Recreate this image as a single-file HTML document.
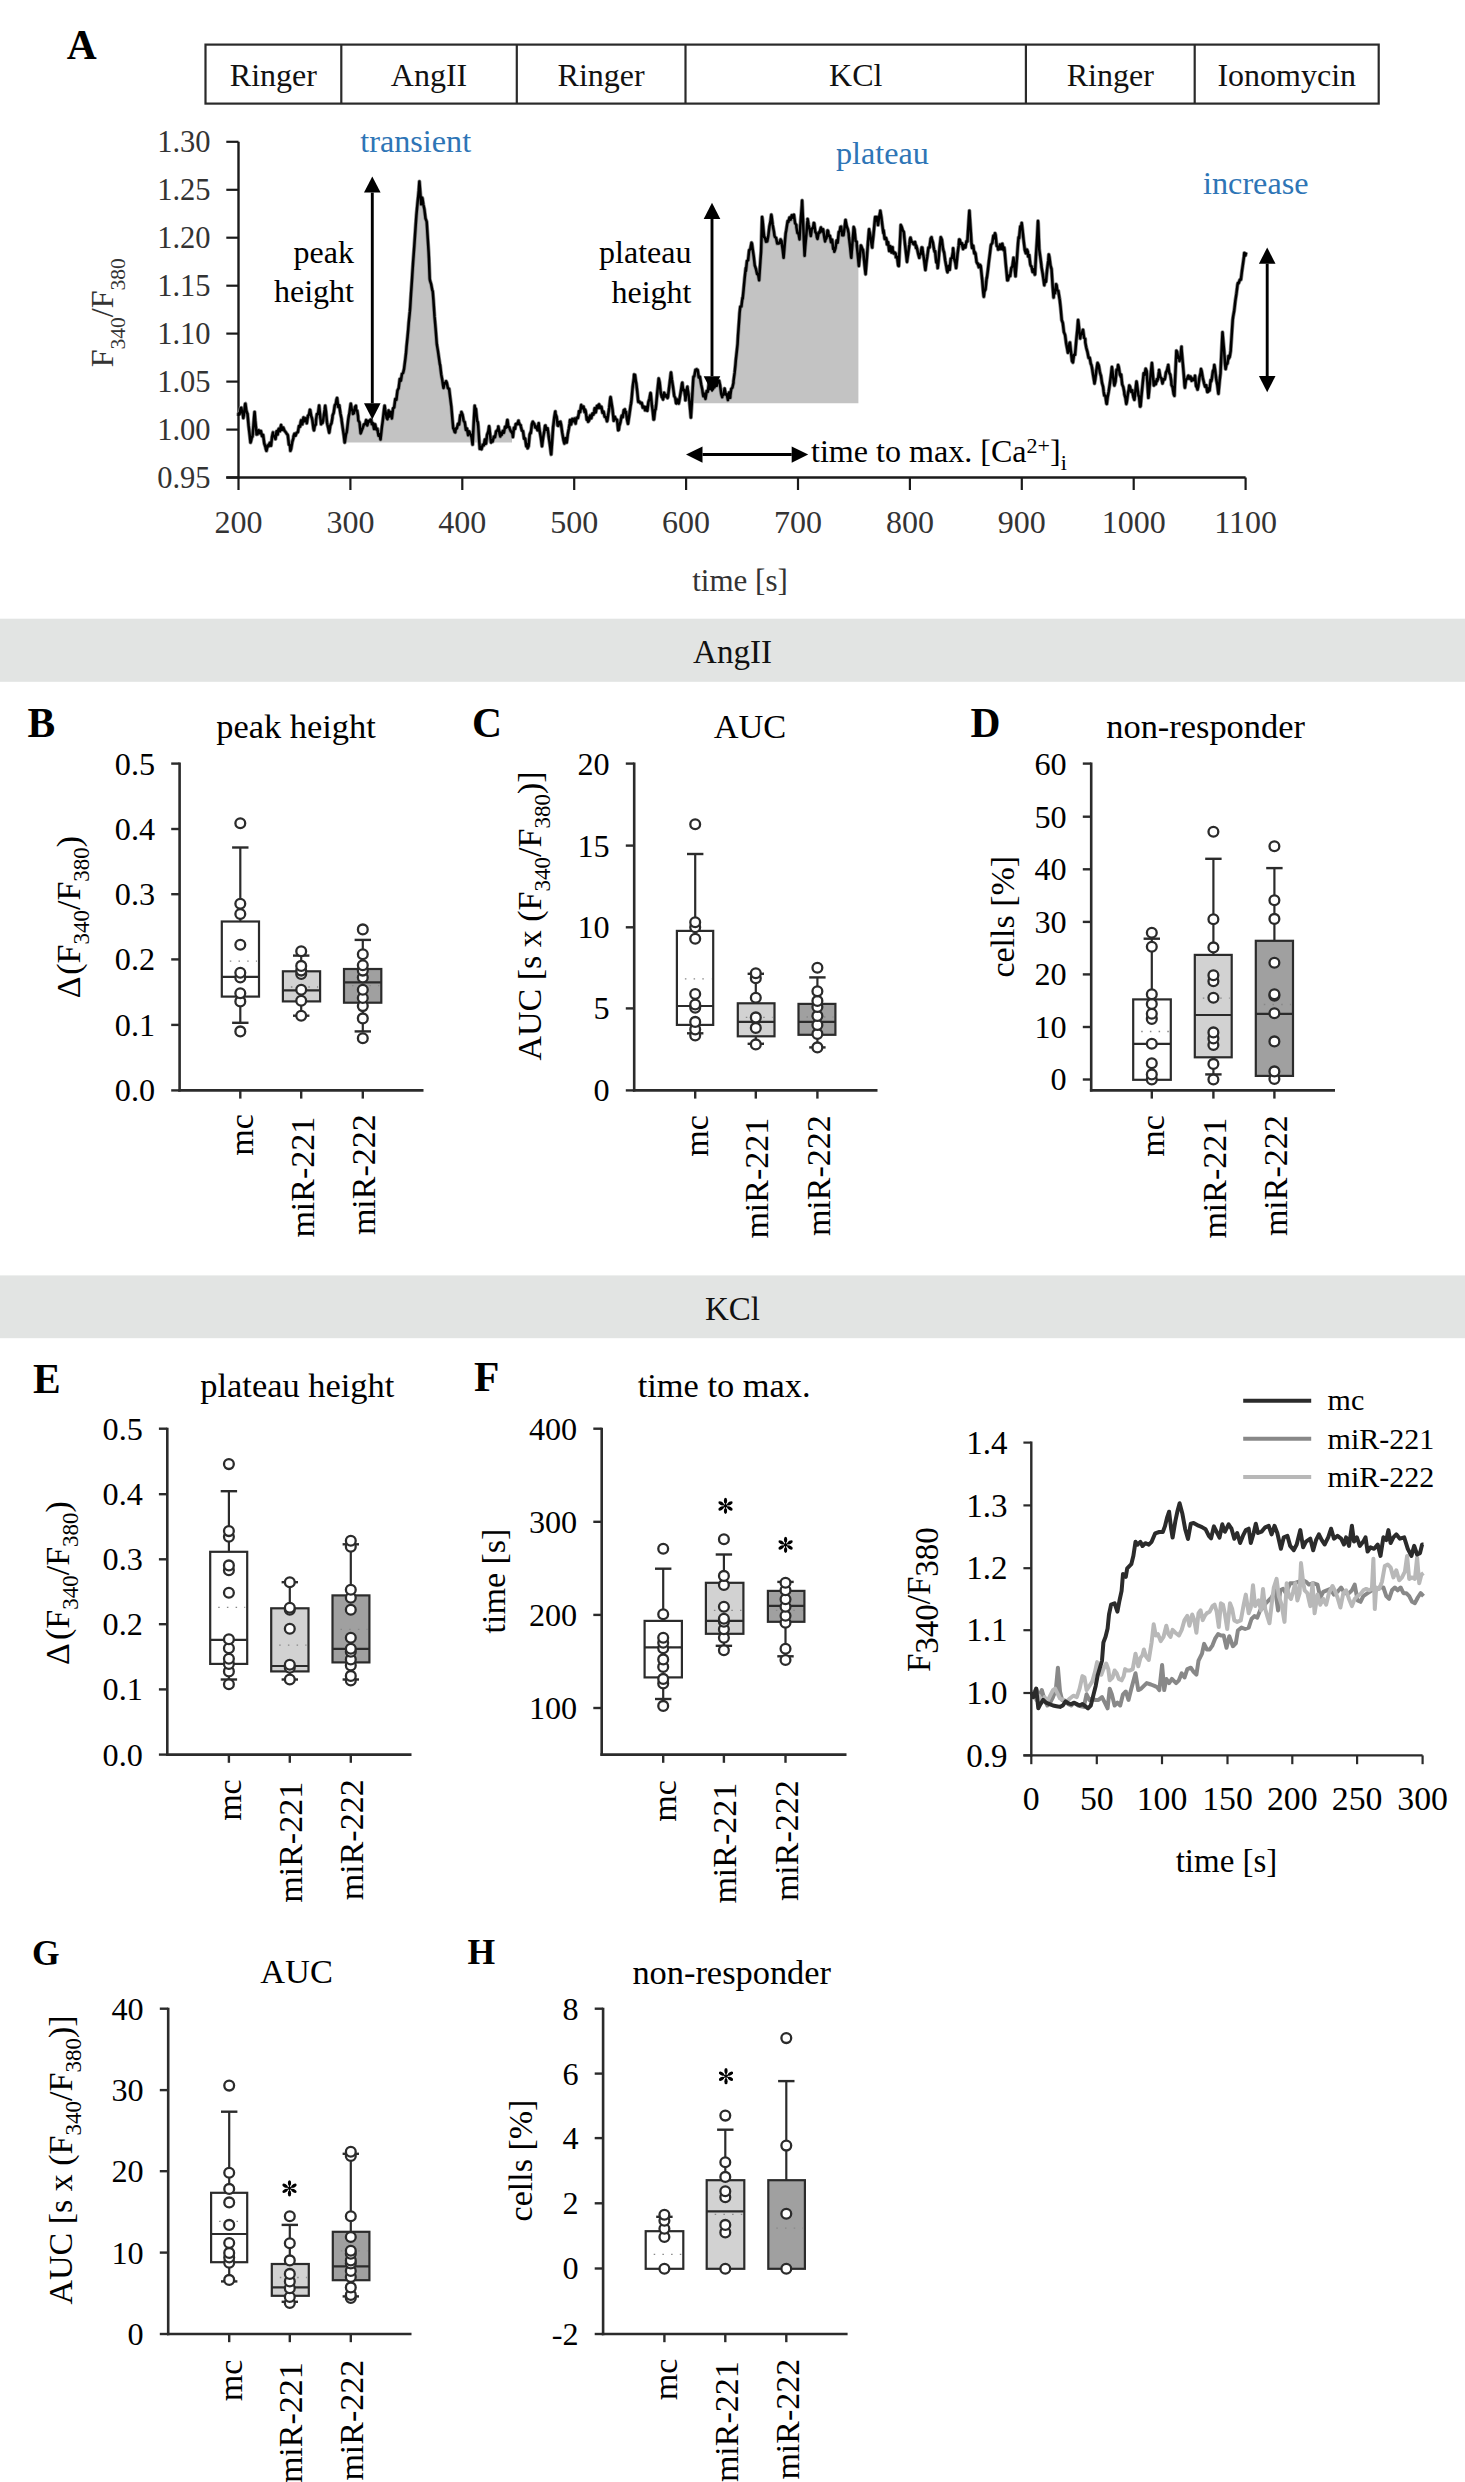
<!DOCTYPE html><html><head><meta charset="utf-8"><title>Figure</title>
<style>html,body{margin:0;padding:0;background:#fff;width:1465px;height:2482px;overflow:hidden}svg{display:block;font-family:"Liberation Serif",serif}</style></head><body>
<svg width="1465" height="2482" viewBox="0 0 1465 2482">
<rect x="0" y="0" width="1465" height="2482" fill="#fff"/>
<text x="66.8" y="58.8" font-size="41.5" text-anchor="start" fill="#000" font-weight="bold" >A</text>
<rect x="205.5" y="44.6" width="1173.2" height="59" fill="none" stroke="#2a2a2a" stroke-width="2.2"/>
<line x1="341.3" y1="44.6" x2="341.3" y2="103.6" stroke="#2a2a2a" stroke-width="2.2" />
<line x1="516.8" y1="44.6" x2="516.8" y2="103.6" stroke="#2a2a2a" stroke-width="2.2" />
<line x1="685.5" y1="44.6" x2="685.5" y2="103.6" stroke="#2a2a2a" stroke-width="2.2" />
<line x1="1025.9" y1="44.6" x2="1025.9" y2="103.6" stroke="#2a2a2a" stroke-width="2.2" />
<line x1="1194.7" y1="44.6" x2="1194.7" y2="103.6" stroke="#2a2a2a" stroke-width="2.2" />
<text x="273.4" y="86.2" font-size="32" text-anchor="middle" fill="#111" >Ringer</text>
<text x="429" y="86.2" font-size="32" text-anchor="middle" fill="#111" >AngII</text>
<text x="601.1" y="86.2" font-size="32" text-anchor="middle" fill="#111" >Ringer</text>
<text x="855.7" y="86.2" font-size="32" text-anchor="middle" fill="#111" >KCl</text>
<text x="1110.3" y="86.2" font-size="32" text-anchor="middle" fill="#111" >Ringer</text>
<text x="1286.7" y="86.2" font-size="32" text-anchor="middle" fill="#111" >Ionomycin</text>
<polygon points="342.6,442.6 342.6,427.3 344.7,442.6 346.7,432.4 348.8,416 350.8,403.7 352.9,413.9 355.9,405.8 358,416 361.1,432.4 364.1,424.2 367.2,422.1 371.3,420.1 374.4,426.2 377.5,430.3 380.5,439.5 382.6,422.1 384.6,405.8 386.7,418 388.7,411.9 391.8,416 393.8,407.8 396.9,395.5 400,381.2 404.1,368.9 406.1,352.5 408.2,330 410.2,307.5 412.3,274.7 414.3,246 416.4,215.3 418.4,194.8 419.4,181.5 420.9,201 422.5,198.9 424.6,211.2 426.6,221.4 428.6,252.2 429.7,278.8 432.7,291.1 434.8,319.7 436.8,344.3 439.9,364.8 443,385.3 446.1,381.2 449.1,389.4 451.2,405.8 453.2,428.3 455.3,432.4 458.3,424.2 461.4,411.9 464.5,422.1 467.6,432.4 470.6,434.4 472.7,442.6 474.7,405.8 477.8,422.1 479.8,442.6 482.9,442.6 486,440.6 489.1,426.2 491.1,442.6 494.2,436.5 498.3,428.3 500.3,436.5 504.4,430.3 507.5,420.1 509.5,428.3 512,433.2 512,442.6" fill="#c3c3c3" stroke="none" />
<polygon points="693.5,403.2 693.5,377 693.5,376.6 696.6,369.4 699.7,376.6 702.7,393 705.8,397.1 708.9,384.8 713,388.9 717.1,382.7 719.1,380.7 722.2,397.1 724.2,390.9 727.3,397.1 730.4,395 733.5,382.7 735.5,364.3 737.6,343.8 739.6,313.1 742.7,298.8 745.8,268.1 748.8,253.7 751.9,243.5 755,266 759.1,280.3 761.1,251.7 762.1,216.9 764.2,237.3 767.3,241.4 771.3,214.8 774.4,235.3 778.5,243.5 781.6,241.4 783.6,257.8 785.7,233.2 787.7,221 790.8,218.9 793.9,214.8 796.4,227.1 799.5,239.4 802.1,200.5 804.6,255.8 807.6,218.9 810.7,235.3 813.8,223 816.9,237.3 819.9,231.2 823,229.2 825.1,241.4 828.1,231.2 831.2,239.4 834.3,251.7 837.3,241.4 840.4,227.1 843.5,235.3 845.5,219.9 848.6,233.2 851.3,257.8 853.7,227.1 856.8,245.5 858.4,261.6 858.4,403.2" fill="#c3c3c3" stroke="none" />
<line x1="238.5" y1="141.8" x2="238.5" y2="478.5" stroke="#1a1a1a" stroke-width="2.4" />
<line x1="226.3" y1="477.5" x2="1245.6" y2="477.5" stroke="#1a1a1a" stroke-width="2.4" />
<line x1="226.3" y1="141.8" x2="238.5" y2="141.8" stroke="#1a1a1a" stroke-width="2.2" />
<text x="210.5" y="152.1" font-size="30.5" text-anchor="end" fill="#333" >1.30</text>
<line x1="226.3" y1="189.8" x2="238.5" y2="189.8" stroke="#1a1a1a" stroke-width="2.2" />
<text x="210.5" y="200.1" font-size="30.5" text-anchor="end" fill="#333" >1.25</text>
<line x1="226.3" y1="237.7" x2="238.5" y2="237.7" stroke="#1a1a1a" stroke-width="2.2" />
<text x="210.5" y="248" font-size="30.5" text-anchor="end" fill="#333" >1.20</text>
<line x1="226.3" y1="285.7" x2="238.5" y2="285.7" stroke="#1a1a1a" stroke-width="2.2" />
<text x="210.5" y="296" font-size="30.5" text-anchor="end" fill="#333" >1.15</text>
<line x1="226.3" y1="333.6" x2="238.5" y2="333.6" stroke="#1a1a1a" stroke-width="2.2" />
<text x="210.5" y="343.9" font-size="30.5" text-anchor="end" fill="#333" >1.10</text>
<line x1="226.3" y1="381.6" x2="238.5" y2="381.6" stroke="#1a1a1a" stroke-width="2.2" />
<text x="210.5" y="391.9" font-size="30.5" text-anchor="end" fill="#333" >1.05</text>
<line x1="226.3" y1="429.6" x2="238.5" y2="429.6" stroke="#1a1a1a" stroke-width="2.2" />
<text x="210.5" y="439.9" font-size="30.5" text-anchor="end" fill="#333" >1.00</text>
<line x1="226.3" y1="477.5" x2="238.5" y2="477.5" stroke="#1a1a1a" stroke-width="2.2" />
<text x="210.5" y="487.8" font-size="30.5" text-anchor="end" fill="#333" >0.95</text>
<line x1="238.5" y1="477.5" x2="238.5" y2="490" stroke="#1a1a1a" stroke-width="2.2" />
<text x="238.5" y="532.5" font-size="32" text-anchor="middle" fill="#333" >200</text>
<line x1="350.4" y1="477.5" x2="350.4" y2="490" stroke="#1a1a1a" stroke-width="2.2" />
<text x="350.4" y="532.5" font-size="32" text-anchor="middle" fill="#333" >300</text>
<line x1="462.3" y1="477.5" x2="462.3" y2="490" stroke="#1a1a1a" stroke-width="2.2" />
<text x="462.3" y="532.5" font-size="32" text-anchor="middle" fill="#333" >400</text>
<line x1="574.2" y1="477.5" x2="574.2" y2="490" stroke="#1a1a1a" stroke-width="2.2" />
<text x="574.2" y="532.5" font-size="32" text-anchor="middle" fill="#333" >500</text>
<line x1="686.1" y1="477.5" x2="686.1" y2="490" stroke="#1a1a1a" stroke-width="2.2" />
<text x="686.1" y="532.5" font-size="32" text-anchor="middle" fill="#333" >600</text>
<line x1="798" y1="477.5" x2="798" y2="490" stroke="#1a1a1a" stroke-width="2.2" />
<text x="798" y="532.5" font-size="32" text-anchor="middle" fill="#333" >700</text>
<line x1="909.9" y1="477.5" x2="909.9" y2="490" stroke="#1a1a1a" stroke-width="2.2" />
<text x="909.9" y="532.5" font-size="32" text-anchor="middle" fill="#333" >800</text>
<line x1="1021.8" y1="477.5" x2="1021.8" y2="490" stroke="#1a1a1a" stroke-width="2.2" />
<text x="1021.8" y="532.5" font-size="32" text-anchor="middle" fill="#333" >900</text>
<line x1="1133.7" y1="477.5" x2="1133.7" y2="490" stroke="#1a1a1a" stroke-width="2.2" />
<text x="1133.7" y="532.5" font-size="32" text-anchor="middle" fill="#333" >1000</text>
<line x1="1245.6" y1="477.5" x2="1245.6" y2="490" stroke="#1a1a1a" stroke-width="2.2" />
<text x="1245.6" y="532.5" font-size="32" text-anchor="middle" fill="#333" >1100</text>
<text x="740" y="590.7" font-size="31" text-anchor="middle" fill="#333" >time [s]</text>
<text transform="translate(113,312.7) rotate(-90)" font-size="32" text-anchor="middle" fill="#333">F<tspan font-size="21.5" dy="12">340</tspan><tspan dy="-12">/F</tspan><tspan font-size="21.5" dy="12">380</tspan></text>
<polyline points="238.5,416 238.5,413.6 239.6,414 240.7,408.1 241.3,407.8 241.9,411.2 243,415.1 243.3,418 244.1,413.3 245.2,403.8 245.4,403.7 246.3,410.3 247.4,413.9 247.5,413.6 248.6,425.8 249.7,435.1 250.5,442.6 250.8,441.7 251.9,437.1 252.5,436.5 253.1,430.2 254.2,416.2 254.6,411.9 255.3,420.9 256.4,431.6 256.6,434.4 257.5,434.2 258.7,430.2 259.7,432.4 259.8,433.2 260.9,431.1 262,436.1 262.8,436.5 263.1,434.9 264.3,443.5 265.4,446.8 265.8,448.8 266.5,450.8 267.6,445.4 268.7,446.1 268.9,444.7 269.9,442.7 271,442.6 271,445.8 272.1,436.6 273,432.4 273.2,435.7 274.3,435.9 275.1,438.5 275.5,439 276.6,431.3 277.7,434.5 278.1,430.3 278.8,428.9 279.9,431.3 281.1,425.1 281.2,426.2 282.2,429.8 283.3,427.6 284.3,430.3 284.4,430.7 285.5,431.8 286.7,433.7 287.3,434.4 287.8,435.2 288.9,444.5 290,445.6 290.4,450.8 291.1,448.9 292.3,441.9 293.4,438.2 293.5,436.5 294.5,433.7 295.6,435.6 296.7,432.6 297.6,432.4 297.9,432 299,425.9 300.1,426.6 300.7,422.1 301.2,420.4 302.3,424.3 303.5,417.4 303.7,420.1 304.6,421.2 305.7,418.4 306.8,422.1 306.8,423.3 307.9,416 309.1,414.3 309.9,409.8 310.2,410.1 311.3,416.6 311.9,418 312.4,420.4 313.5,428.7 314,430.3 314.7,426 315.8,424.6 316,420.1 316.9,414.1 318,414.1 319.1,405.8 319.1,405.5 320.3,417.1 321.1,424.2 321.4,421.7 322.5,423 323.2,420.1 323.6,416.9 324.7,409.7 325.2,405.8 325.9,410.9 327,422.4 327.3,424.2 328.1,427.4 329.2,432.7 329.3,432.4 330.3,425.6 331.5,423.2 332.4,418 332.6,415.5 333.7,412.8 334.4,407.8 334.8,405.4 335.9,403.6 336.5,399.6 337.1,398 338.2,406.9 339.3,405.3 339.6,407.8 340.4,413.3 341.5,418.7 341.6,420.1 342.7,427.9 343.8,435.1 344.7,442.6 344.9,441.7 346,434.2 346.7,432.4 347.1,429.5 348.3,419.3 348.8,416 349.4,413.4 350.5,405.5 350.8,403.7 351.6,408.6 352.7,411.6 352.9,413.9 353.9,413.3 355,407.2 355.9,405.8 356.1,410.1 357.2,410.8 358,416 358.3,420.5 359.5,422.4 360.6,433.4 361.1,432.4 361.7,430.5 362.8,427.9 363.9,424.4 364.1,424.2 365.1,424.2 366.2,420.1 367.2,422.1 367.3,425.4 368.4,420.9 369.5,421.5 370.7,419.5 371.3,420.1 371.8,424.2 372.9,423.1 374,429 374.4,426.2 375.1,424.4 376.3,429.4 377.4,428.9 377.5,430.3 378.5,435.7 379.6,434.4 380.5,439.5 380.7,438.1 381.9,427.2 382.6,422.1 383,419 384.1,409.3 384.6,405.8 385.2,410 386.3,415.6 386.7,418 387.5,419.2 388.6,410.6 388.7,411.9 389.7,416.5 390.8,412 391.8,416 391.9,418.4 393.1,408.2 393.8,407.8 394.2,407.5 395.3,399 396.4,399.8 396.9,395.5 397.5,390.5 398.7,388.2 399.8,379 400,381.2 400.9,380.7 402,373.9 403.1,373 404.1,368.9 404.3,367.1 405.4,358.7 406.1,352.5 406.5,347.3 407.6,336.5 408.2,330 408.7,323.3 409.9,311.4 410.2,307.5 411,294.4 412.1,278.4 412.3,274.7 413.2,261 414.3,246.2 414.3,246 415.5,228.4 416.4,215.3 416.6,213.2 417.7,201.4 418.4,194.8 418.8,190.5 419.4,181.5 419.9,187.9 420.9,201 421.1,204.2 422.2,197.8 422.5,198.9 423.3,204.3 424.4,209.4 424.6,211.2 425.5,218.5 426.6,221.4 426.7,222 427.8,239.4 428.6,252.2 428.9,258.1 429.7,278.8 430,280.6 431.1,284.1 432.3,290.5 432.7,291.1 433.4,299.9 434.5,316.4 434.8,319.7 435.6,328.8 436.7,343.1 436.8,344.3 437.9,350.9 439,358.6 439.9,364.8 440.1,365 441.2,374.4 442.3,380.3 443,385.3 443.5,388 444.6,382.9 445.7,383.3 446.1,381.2 446.8,382.8 447.9,388.2 449.1,389.4 449.1,388.8 450.2,397.8 451.2,405.8 451.3,406.4 452.4,419.5 453.2,428.3 453.5,428.4 454.7,432.2 455.3,432.4 455.8,428.5 456.9,428.4 458,423.7 458.3,424.2 459.1,424.5 460.3,415.1 461.4,414.5 461.4,411.9 462.5,414.6 463.6,420.6 464.5,422.1 464.7,422 465.9,430 467,428.6 467.6,432.4 468.1,435.2 469.2,431.4 470.3,434.3 470.6,434.4 471.5,437 472.6,444.6 472.7,442.6 473.7,423.4 474.7,405.8 474.8,407.4 475.9,408.9 477.1,420.8 477.8,422.1 478.2,426 479.3,442 479.8,448.8 480.4,446.9 481.5,449.2 482.7,444.8 482.9,444.7 483.8,445.3 484.9,439.4 486,440.6 486,443.7 487.1,434.7 488.3,431.5 489.1,426.2 489.4,428.1 490.5,438.2 491.1,442.6 491.6,441.4 492.7,441.4 493.9,436.6 494.2,436.5 495,437.2 496.1,431.4 497.2,430.5 498.3,428.3 498.3,426.4 499.5,433.1 500.3,436.5 500.6,432.7 501.7,434.9 502.8,431.1 503.9,432.8 504.4,430.3 505.1,426.7 506.2,427.7 507.3,420.1 507.5,420.1 508.4,427.1 509.5,427.3 509.5,428.3 510.7,431.1 511.8,432.4 512.6,434.4 512.9,437 514,427.7 515.1,428.8 515.7,424.2 516.3,423.7 517.4,424.2 518.5,420.7 518.8,422.1 519.6,424.3 520.7,425.2 520.8,426.2 521.9,430.6 523,431.1 524.1,438.7 524.6,438 525.2,438.8 526.3,446.3 527.5,444.5 527.6,448.3 528.6,446.1 529.7,434.4 530.7,431.9 530.8,433.2 531.9,424.1 532.8,421.7 533.1,422.4 534.2,423.7 535.3,427.5 535.8,427.8 536.4,426.6 537.5,430.2 538.7,423.2 538.9,425.8 539.8,431.7 540.9,438 542,446.3 542,446.2 543.1,437.8 544.3,431.1 545.1,425.8 545.4,425.5 546.5,429.7 547.6,428.3 548.1,431.9 548.7,436.8 549.9,444.6 551,453.6 551.2,454.4 552.1,441.8 553.2,425.8 553.2,426.8 554.3,417.3 555.3,411.4 555.5,413.9 556.6,416.7 557.7,425.5 558.4,425.8 558.8,422.2 559.9,423.2 560.4,421.7 561.1,424.6 562.2,432.6 563.3,438.8 563.5,440.1 564.4,443.5 565.5,438.3 566.6,442.1 566.7,442.5 567.8,434.2 568.9,428.3 569.6,423.7 570,420.1 571.1,424.5 572.3,418.9 572.7,419.6 573.4,421.3 574.5,418.6 575.6,423.6 575.8,421.7 576.7,417.7 577.9,418 578.8,413.5 579,411.2 580.1,412.2 581.2,405.1 581.9,407.3 582.3,408.3 583.5,406.6 584.6,412.1 585,409.4 585.7,411.3 586.8,419.8 587.9,417.6 588.1,421.7 589.1,420.4 590.2,415.4 591.1,417.6 591.3,418.2 592.4,413.5 593.5,414.6 594.2,411.4 594.7,408.2 595.8,412.4 596.9,406.1 598,408 598.3,405.3 599.1,404.4 600.3,408 601.4,407.3 601.4,406.8 602.5,412.8 603.6,411.7 604.4,415.5 604.7,416.8 605.9,417.2 607,421.3 607.5,419.6 608.1,415.2 609.2,408 610.3,398.3 610.6,397.1 611.5,403 612.6,409.9 613.7,420.8 613.7,417.6 614.8,416.8 615.9,419.3 616.7,419.6 617.1,419.9 618.2,430.3 618.8,429.8 619.3,426.2 620.4,422.4 621.5,416.5 621.9,415.5 622.7,417.2 623.8,410.3 624.9,409.4 624.9,412.6 626,411.8 627.1,419.8 628,423.7 628.3,421.8 629.4,414.5 630.5,406.5 631.1,403.2 631.6,399 632.7,386.7 633.9,378.1 634.1,374.6 635,374.9 636.1,382.9 636.2,382.7 637.2,391.2 638.2,401.2 638.3,401.9 639.5,401.6 640.6,403.3 641.3,403.2 641.7,402.8 642.8,407.6 643.9,406.6 644.4,407.3 645.1,410.3 646.2,407 647.3,410.8 647.5,409.4 648.4,402.1 649.5,398.5 650.5,393 650.7,393.3 651.8,404.3 652.9,412.7 653.6,419.6 654,419.4 655.1,409.6 655.6,409.4 656.3,403.3 657.4,391.3 658.5,380.8 658.7,378.6 659.6,382.2 660.7,392.6 661.8,397.1 661.9,395.9 663,399.5 664.1,392.8 664.9,395 665.2,396.6 666.3,395.1 667.5,398 667.9,397.1 668.6,391.6 669.7,383 670.8,373.8 671,372.5 671.9,379.7 673.1,387.4 674.1,395 674.2,396 675.3,398 676.1,403.2 676.4,403.4 677.5,399.6 678.7,403.5 679.2,401.2 679.8,397.6 680.9,391 682,383.7 682.3,382.7 683.1,390.3 684.3,390.1 685.3,397.1 685.4,400.3 686.5,391 687.4,386.8 687.6,389 688.7,395.8 689.4,401.2 689.9,406.6 690.9,417.6 691,415.8 692.1,399 693.2,380.4 693.5,376.6 694.3,376.4 695.5,369.8 696.6,369.4 696.6,370.2 697.7,370.1 698.8,377.5 699.7,376.6 699.9,376.8 701.1,384.3 702.2,389.2 702.7,393 703.3,396.2 704.4,393.7 705.5,398.9 705.8,397.1 706.7,391 707.8,391.8 708.9,383.6 708.9,384.8 710,389 711.1,383.8 712.3,389.9 713,388.9 713.4,386.3 714.5,387.2 715.6,381.9 716.7,385.8 717.1,382.7 717.9,381.3 719,382.2 719.1,380.7 720.1,385.5 721.2,393.9 722.2,397.1 722.3,395.4 723.5,394.9 724.2,390.9 724.6,388.6 725.7,394.5 726.8,394.3 727.3,397.1 727.9,400.1 729.1,392.5 730.2,397.8 730.4,395 731.3,388.8 732.4,387.7 733.5,382.7 733.5,381.3 734.7,372.4 735.5,364.3 735.8,360.5 736.9,350.5 737.6,343.8 738,336.2 739.1,320.9 739.6,313.1 740.3,306.7 741.4,306.5 742.5,297.7 742.7,298.8 743.6,289.6 744.7,277.8 745.8,268.1 745.9,271.1 747,260.8 748.1,260.3 748.8,253.7 749.2,250 750.3,249.4 751.5,242.8 751.9,243.5 752.6,248.6 753.7,256.2 754.8,265.9 755,266 755.9,268.8 757.1,274.1 758.2,274.7 759.1,280.3 759.3,277.5 760.4,261.1 761.1,251.7 761.5,237.7 762.1,216.9 762.7,221.6 763.8,233.6 764.2,237.3 764.9,237.4 766,241.7 767.1,239 767.3,241.4 768.3,235.8 769.4,226.6 770.5,221.3 771.3,214.8 771.6,216.3 772.7,225 773.9,231.4 774.4,235.3 775,237.1 776.1,237.9 777.2,243.6 778.3,243 778.5,243.5 779.5,243.1 780.6,239.5 781.6,241.4 781.7,243.1 782.8,250.8 783.6,257.8 783.9,254.3 785.1,239.8 785.7,233.2 786.2,230.7 787.3,223.5 787.7,221 788.4,221.9 789.5,217.5 790.7,219.7 790.8,218.9 791.8,215.2 792.9,217.6 793.9,214.8 794,215.4 795.1,223.3 796.3,224.9 796.4,227.1 797.4,233.1 798.5,233.5 799.5,239.4 799.6,237.2 800.7,220.5 801.9,205.2 802.1,200.5 803,219.8 804.1,245.2 804.6,255.8 805.2,247.1 806.3,235.1 807.5,220.9 807.6,218.9 808.6,224.9 809.7,229.8 810.7,235.3 810.8,236 811.9,228.4 813.1,228 813.8,223 814.2,223.4 815.3,231.8 816.4,233.8 816.9,237.3 817.5,238.9 818.7,232.6 819.8,232.7 819.9,231.2 820.9,227.5 822,231.5 823,229.2 823.1,229.2 824.3,237.3 825.1,241.4 825.4,239.7 826.5,238.1 827.6,230.4 828.1,231.2 828.7,236 829.9,235.7 831,242.2 831.2,239.4 832.1,239.7 833.2,249.1 834.3,248.2 834.3,251.7 835.5,248.4 836.6,240.4 837.3,241.4 837.7,242.7 838.8,232 839.9,230.7 840.4,227.1 841.1,226.7 842.2,235.3 843.3,234.8 843.5,235.3 844.4,229.1 845.5,219.9 845.5,220 846.7,226.3 847.8,229.2 848.6,233.2 848.9,237 850,246 851.1,256.9 851.3,257.8 852.3,244.8 853.4,231.7 853.7,227.1 854.5,229.5 855.6,241.1 856.7,241.7 856.8,245.5 857.9,256.2 858.8,266 859,264.1 860.1,253.7 860.9,245.5 861.2,245.8 862.3,249 862.9,249.6 863.5,254 864.6,265.4 865.6,274.2 865.7,272.7 866.8,258.9 867.9,243.3 869.1,229.2 869.1,230.1 870.2,234.8 871.3,242.5 872.2,247.6 872.4,244.5 873.5,234.6 874.7,221.7 875.2,216.9 875.8,220.4 876.9,217 878,225.1 878.3,223 879.1,217.3 880.3,211.7 880.3,210.7 881.4,217.4 882.5,226.6 883.4,233.2 883.6,230.3 884.7,238.9 885.9,237.8 886.5,239.4 887,244.5 888.1,242.1 889.2,251 889.6,249.6 890.3,246.3 891.5,252.4 892.6,247.3 892.6,249.6 893.7,253.4 894.8,252.5 895.7,253.7 895.9,257.3 897.1,256.9 898.2,265.6 898.8,266 899.3,255.6 900.4,233.9 900.8,225.1 901.5,226.5 902.7,230.2 903.8,232 903.9,233.2 904.9,243.4 906,252.9 907,261.9 907.1,260.8 908.3,252.4 909.4,244.7 910,239.4 910.5,237.7 911.6,241.9 912.7,242.2 913.1,243.5 913.9,244.3 915,242 916.1,248.1 916.2,245.5 917.2,249.2 918.3,254.2 919.3,257.8 919.5,254.4 920.6,254.4 921.7,247.4 922.3,247.6 922.8,252.1 923.9,258.4 925.1,267.8 925.4,270.1 926.2,263.4 927.3,256.4 928.4,248 928.5,247.6 929.5,247.6 930.7,238.7 931.5,237.3 931.8,239.2 932.9,242.4 934,249.3 934.6,251.7 935.1,251.2 936.3,262.4 937.4,263.1 937.7,268.1 938.5,260.9 939.6,247.7 940.7,238.3 940.8,237.3 941.9,239.8 943,248.6 943.8,251.7 944.1,252.5 945.2,260.5 946.3,266.4 946.9,270.1 947.5,272.2 948.6,266.1 949.7,269.8 950,266 950.8,258.6 951.9,258 953,251.7 953.1,248.2 954.2,258.8 955.3,262.6 956.1,268.1 956.4,265.5 957.5,254.3 958.7,245.4 959.2,239.4 959.8,239.8 960.9,243.9 962,243.3 962.3,245.5 963.1,249 964.3,245.3 965.3,245.5 965.4,247.5 966.5,241.2 967.4,241.4 967.6,238.3 968.7,220.8 969.4,210.7 969.9,218.5 971,234.9 971.5,243.5 972.1,248.1 973.2,245.7 974.3,253.4 974.6,251.7 975.5,253.5 976.6,262.1 977.6,264 977.7,263.2 978.8,267.1 979.9,264.8 980.7,266 981.1,269.7 982.2,280 983.3,292.8 983.8,296.7 984.4,291.6 985.5,289.4 986.7,277.6 986.8,278.3 987.8,271 988.9,261.5 990,252.9 990.9,245.5 991.1,244.7 992.3,243.1 993.4,235.8 994.5,238.1 995,233.2 995.6,235.1 996.7,245.8 997.9,247 998.1,249.6 999,249.1 1000.1,244.6 1001.2,248.9 1001.2,245.5 1002.3,243.8 1003.5,250.1 1004.2,247.6 1004.6,250.4 1005.7,263.4 1006.8,274.6 1007.3,280.3 1007.9,280.2 1009.1,275.6 1010.2,276 1010.4,274.2 1011.3,268.2 1012.4,266.2 1013.5,258.2 1013.5,257.8 1014.7,268.6 1015.5,276.3 1015.8,272.4 1016.9,259 1018,243.6 1018.6,237.3 1019.1,238.2 1020.3,226.4 1021.4,225.9 1021.7,223 1022.5,230 1023.6,240.1 1024.7,249.1 1024.7,249.6 1025.9,253.3 1027,249.6 1027.8,251.7 1028.1,256.4 1029.2,255 1030.3,264.3 1030.9,266 1031.5,266.5 1032.6,271.9 1033.7,269.3 1034.8,274.6 1035,274.2 1035.9,256.8 1037.1,238.5 1038,221 1038.2,223.3 1039.2,248.3 1039.3,249.8 1040.4,257.7 1041.3,264.7 1041.5,267 1042.7,273.9 1043.8,281.5 1044.3,285.2 1044.9,280.3 1046,281.7 1046.4,277 1047.1,269.6 1048.3,260.7 1048.8,254.4 1049.4,257.2 1050.5,265.7 1051.5,268.8 1051.6,270.1 1052.7,286.9 1053.6,297.5 1053.9,292.8 1055,293.3 1056.1,284.2 1056.6,285.2 1057.2,290.1 1058.3,290.9 1059.5,298.5 1059.7,299.5 1060.6,307.5 1061.7,319.7 1061.7,320 1062.8,323 1063.9,332.1 1064.8,334.3 1065.1,335.2 1066.2,343.6 1067.3,349.2 1067.9,352.7 1068.4,351.5 1069.5,343.1 1069.9,342.5 1070.7,349.7 1071.8,358.9 1072,360.9 1072.9,362.5 1074,354.8 1075.1,354.8 1075.1,354 1076.3,340.2 1077.4,329.1 1078.1,320 1078.5,322.9 1079.6,333.7 1080.2,338.4 1080.7,335 1081.9,333.5 1082.8,330.2 1083,329.9 1084.1,337.8 1085.2,338.8 1085.3,342.5 1086.3,347.8 1087.5,352.1 1088.4,356.8 1088.6,357.9 1089.7,357.8 1090.8,363.8 1091.4,365 1091.9,367.3 1093.1,374.9 1094.2,381.2 1094.5,383.5 1095.3,379.1 1096.4,370.4 1097.5,363.3 1097.6,363 1098.7,365.3 1099.8,371.8 1100.7,375.3 1100.9,375.4 1102,382.9 1103.1,386.8 1103.7,391.7 1104.3,395.6 1105.4,395.8 1106.5,403.6 1106.8,403.9 1107.6,397.4 1108.7,391.5 1109.9,383.5 1111,375.2 1111.9,367.1 1112.1,368.4 1113.2,377.6 1114.3,385.1 1114.4,385.5 1115.5,381.4 1116.6,369.7 1117.7,369.4 1118.1,365 1118.8,367.4 1119.9,374.5 1121.1,377.3 1121.1,374.4 1122.2,384.4 1123.3,387.1 1124.2,391.7 1124.4,394.1 1125.5,398.1 1126.3,403.9 1126.7,402.5 1127.8,394.6 1128.9,388.8 1129.3,385.5 1130,386.6 1131.1,391.7 1132.3,390.4 1132.4,391.7 1133.4,397 1134.4,399.8 1134.5,399.1 1135.6,389.5 1136.5,381.4 1136.7,382.3 1137.9,391.2 1138.5,395.8 1139,396.1 1140.1,406.6 1140.6,406 1141.2,398.3 1142.3,387.4 1143.5,375.2 1143.7,373.2 1144.6,374.7 1145.7,368.7 1146.7,371.2 1146.8,373.2 1147.9,390.5 1148.4,397.8 1149.1,391.1 1150.2,379.5 1151.3,369 1151.9,363 1152.4,368.6 1153.5,382 1153.9,385.5 1154.7,381.5 1155.8,384.2 1156.9,379.2 1157,381.4 1158,378.8 1159,371.2 1159.1,370 1160.3,376.9 1161.4,378.3 1162.1,381.4 1162.5,383.4 1163.6,379.2 1164.7,379.4 1165.2,377.3 1165.9,372.6 1167,370.4 1168.1,365.5 1168.2,365 1169.2,372.7 1170.3,374.7 1171.3,381.4 1171.5,385 1172.6,387.3 1173.7,394.1 1174.4,395.8 1174.8,385.6 1175.9,362.3 1176.4,350.7 1177.1,351.8 1178.2,357.9 1179.3,357.3 1179.5,360.9 1180.4,357.5 1181.5,346.8 1181.5,348.6 1182.7,362.2 1183.8,374.8 1184.6,385.5 1184.9,387.7 1186,379.7 1187.1,378.8 1187.7,377.3 1188.3,375.7 1189.4,378.7 1190.5,376.6 1191.6,380.8 1191.8,379.4 1192.7,378.5 1193.9,380 1194.9,377.3 1195,375.8 1196.1,386.1 1197.2,388 1197.5,389.6 1198.3,386.1 1199.5,377.1 1200.6,372.9 1201,369.1 1201.7,371.4 1202.8,378 1203.9,382.4 1204.1,383.5 1205.1,386.7 1206.2,385.3 1207.3,392 1208.2,391.7 1208.4,388.6 1209.5,390.5 1210.7,380.1 1211.2,381.4 1211.8,379.2 1212.9,371.3 1214,368.7 1214.3,365 1215.1,369.9 1216.3,379.6 1217.4,385.5 1218.4,393.7 1218.5,393 1219.6,381 1220.5,373.2 1220.7,368.6 1221.9,344.7 1222.5,332.3 1223,338.3 1224.1,350.6 1225.2,365.4 1225.6,369.1 1226.3,365.1 1227.5,363.4 1228.6,355.9 1228.6,358.9 1229.7,356.9 1230.7,350.7 1230.8,348.8 1231.9,332.1 1232.7,320 1233.1,316.9 1234.2,310.7 1234.8,305.6 1235.3,301.1 1236.4,293.9 1237.5,285.1 1237.9,283.1 1238.7,283.2 1239.8,279.8 1240.9,279 1240.9,279.7 1242,270.7 1243.1,263.1 1244,256.5 1244.3,252.9 1245.4,255.5 1246.1,252.4" fill="none" stroke="#8a8a8a" stroke-width="4.0" stroke-linejoin="round" />
<polyline points="238.5,416 238.5,413.6 239.6,414 240.7,408.1 241.3,407.8 241.9,411.2 243,415.1 243.3,418 244.1,413.3 245.2,403.8 245.4,403.7 246.3,410.3 247.4,413.9 247.5,413.6 248.6,425.8 249.7,435.1 250.5,442.6 250.8,441.7 251.9,437.1 252.5,436.5 253.1,430.2 254.2,416.2 254.6,411.9 255.3,420.9 256.4,431.6 256.6,434.4 257.5,434.2 258.7,430.2 259.7,432.4 259.8,433.2 260.9,431.1 262,436.1 262.8,436.5 263.1,434.9 264.3,443.5 265.4,446.8 265.8,448.8 266.5,450.8 267.6,445.4 268.7,446.1 268.9,444.7 269.9,442.7 271,442.6 271,445.8 272.1,436.6 273,432.4 273.2,435.7 274.3,435.9 275.1,438.5 275.5,439 276.6,431.3 277.7,434.5 278.1,430.3 278.8,428.9 279.9,431.3 281.1,425.1 281.2,426.2 282.2,429.8 283.3,427.6 284.3,430.3 284.4,430.7 285.5,431.8 286.7,433.7 287.3,434.4 287.8,435.2 288.9,444.5 290,445.6 290.4,450.8 291.1,448.9 292.3,441.9 293.4,438.2 293.5,436.5 294.5,433.7 295.6,435.6 296.7,432.6 297.6,432.4 297.9,432 299,425.9 300.1,426.6 300.7,422.1 301.2,420.4 302.3,424.3 303.5,417.4 303.7,420.1 304.6,421.2 305.7,418.4 306.8,422.1 306.8,423.3 307.9,416 309.1,414.3 309.9,409.8 310.2,410.1 311.3,416.6 311.9,418 312.4,420.4 313.5,428.7 314,430.3 314.7,426 315.8,424.6 316,420.1 316.9,414.1 318,414.1 319.1,405.8 319.1,405.5 320.3,417.1 321.1,424.2 321.4,421.7 322.5,423 323.2,420.1 323.6,416.9 324.7,409.7 325.2,405.8 325.9,410.9 327,422.4 327.3,424.2 328.1,427.4 329.2,432.7 329.3,432.4 330.3,425.6 331.5,423.2 332.4,418 332.6,415.5 333.7,412.8 334.4,407.8 334.8,405.4 335.9,403.6 336.5,399.6 337.1,398 338.2,406.9 339.3,405.3 339.6,407.8 340.4,413.3 341.5,418.7 341.6,420.1 342.7,427.9 343.8,435.1 344.7,442.6 344.9,441.7 346,434.2 346.7,432.4 347.1,429.5 348.3,419.3 348.8,416 349.4,413.4 350.5,405.5 350.8,403.7 351.6,408.6 352.7,411.6 352.9,413.9 353.9,413.3 355,407.2 355.9,405.8 356.1,410.1 357.2,410.8 358,416 358.3,420.5 359.5,422.4 360.6,433.4 361.1,432.4 361.7,430.5 362.8,427.9 363.9,424.4 364.1,424.2 365.1,424.2 366.2,420.1 367.2,422.1 367.3,425.4 368.4,420.9 369.5,421.5 370.7,419.5 371.3,420.1 371.8,424.2 372.9,423.1 374,429 374.4,426.2 375.1,424.4 376.3,429.4 377.4,428.9 377.5,430.3 378.5,435.7 379.6,434.4 380.5,439.5 380.7,438.1 381.9,427.2 382.6,422.1 383,419 384.1,409.3 384.6,405.8 385.2,410 386.3,415.6 386.7,418 387.5,419.2 388.6,410.6 388.7,411.9 389.7,416.5 390.8,412 391.8,416 391.9,418.4 393.1,408.2 393.8,407.8 394.2,407.5 395.3,399 396.4,399.8 396.9,395.5 397.5,390.5 398.7,388.2 399.8,379 400,381.2 400.9,380.7 402,373.9 403.1,373 404.1,368.9 404.3,367.1 405.4,358.7 406.1,352.5 406.5,347.3 407.6,336.5 408.2,330 408.7,323.3 409.9,311.4 410.2,307.5 411,294.4 412.1,278.4 412.3,274.7 413.2,261 414.3,246.2 414.3,246 415.5,228.4 416.4,215.3 416.6,213.2 417.7,201.4 418.4,194.8 418.8,190.5 419.4,181.5 419.9,187.9 420.9,201 421.1,204.2 422.2,197.8 422.5,198.9 423.3,204.3 424.4,209.4 424.6,211.2 425.5,218.5 426.6,221.4 426.7,222 427.8,239.4 428.6,252.2 428.9,258.1 429.7,278.8 430,280.6 431.1,284.1 432.3,290.5 432.7,291.1 433.4,299.9 434.5,316.4 434.8,319.7 435.6,328.8 436.7,343.1 436.8,344.3 437.9,350.9 439,358.6 439.9,364.8 440.1,365 441.2,374.4 442.3,380.3 443,385.3 443.5,388 444.6,382.9 445.7,383.3 446.1,381.2 446.8,382.8 447.9,388.2 449.1,389.4 449.1,388.8 450.2,397.8 451.2,405.8 451.3,406.4 452.4,419.5 453.2,428.3 453.5,428.4 454.7,432.2 455.3,432.4 455.8,428.5 456.9,428.4 458,423.7 458.3,424.2 459.1,424.5 460.3,415.1 461.4,414.5 461.4,411.9 462.5,414.6 463.6,420.6 464.5,422.1 464.7,422 465.9,430 467,428.6 467.6,432.4 468.1,435.2 469.2,431.4 470.3,434.3 470.6,434.4 471.5,437 472.6,444.6 472.7,442.6 473.7,423.4 474.7,405.8 474.8,407.4 475.9,408.9 477.1,420.8 477.8,422.1 478.2,426 479.3,442 479.8,448.8 480.4,446.9 481.5,449.2 482.7,444.8 482.9,444.7 483.8,445.3 484.9,439.4 486,440.6 486,443.7 487.1,434.7 488.3,431.5 489.1,426.2 489.4,428.1 490.5,438.2 491.1,442.6 491.6,441.4 492.7,441.4 493.9,436.6 494.2,436.5 495,437.2 496.1,431.4 497.2,430.5 498.3,428.3 498.3,426.4 499.5,433.1 500.3,436.5 500.6,432.7 501.7,434.9 502.8,431.1 503.9,432.8 504.4,430.3 505.1,426.7 506.2,427.7 507.3,420.1 507.5,420.1 508.4,427.1 509.5,427.3 509.5,428.3 510.7,431.1 511.8,432.4 512.6,434.4 512.9,437 514,427.7 515.1,428.8 515.7,424.2 516.3,423.7 517.4,424.2 518.5,420.7 518.8,422.1 519.6,424.3 520.7,425.2 520.8,426.2 521.9,430.6 523,431.1 524.1,438.7 524.6,438 525.2,438.8 526.3,446.3 527.5,444.5 527.6,448.3 528.6,446.1 529.7,434.4 530.7,431.9 530.8,433.2 531.9,424.1 532.8,421.7 533.1,422.4 534.2,423.7 535.3,427.5 535.8,427.8 536.4,426.6 537.5,430.2 538.7,423.2 538.9,425.8 539.8,431.7 540.9,438 542,446.3 542,446.2 543.1,437.8 544.3,431.1 545.1,425.8 545.4,425.5 546.5,429.7 547.6,428.3 548.1,431.9 548.7,436.8 549.9,444.6 551,453.6 551.2,454.4 552.1,441.8 553.2,425.8 553.2,426.8 554.3,417.3 555.3,411.4 555.5,413.9 556.6,416.7 557.7,425.5 558.4,425.8 558.8,422.2 559.9,423.2 560.4,421.7 561.1,424.6 562.2,432.6 563.3,438.8 563.5,440.1 564.4,443.5 565.5,438.3 566.6,442.1 566.7,442.5 567.8,434.2 568.9,428.3 569.6,423.7 570,420.1 571.1,424.5 572.3,418.9 572.7,419.6 573.4,421.3 574.5,418.6 575.6,423.6 575.8,421.7 576.7,417.7 577.9,418 578.8,413.5 579,411.2 580.1,412.2 581.2,405.1 581.9,407.3 582.3,408.3 583.5,406.6 584.6,412.1 585,409.4 585.7,411.3 586.8,419.8 587.9,417.6 588.1,421.7 589.1,420.4 590.2,415.4 591.1,417.6 591.3,418.2 592.4,413.5 593.5,414.6 594.2,411.4 594.7,408.2 595.8,412.4 596.9,406.1 598,408 598.3,405.3 599.1,404.4 600.3,408 601.4,407.3 601.4,406.8 602.5,412.8 603.6,411.7 604.4,415.5 604.7,416.8 605.9,417.2 607,421.3 607.5,419.6 608.1,415.2 609.2,408 610.3,398.3 610.6,397.1 611.5,403 612.6,409.9 613.7,420.8 613.7,417.6 614.8,416.8 615.9,419.3 616.7,419.6 617.1,419.9 618.2,430.3 618.8,429.8 619.3,426.2 620.4,422.4 621.5,416.5 621.9,415.5 622.7,417.2 623.8,410.3 624.9,409.4 624.9,412.6 626,411.8 627.1,419.8 628,423.7 628.3,421.8 629.4,414.5 630.5,406.5 631.1,403.2 631.6,399 632.7,386.7 633.9,378.1 634.1,374.6 635,374.9 636.1,382.9 636.2,382.7 637.2,391.2 638.2,401.2 638.3,401.9 639.5,401.6 640.6,403.3 641.3,403.2 641.7,402.8 642.8,407.6 643.9,406.6 644.4,407.3 645.1,410.3 646.2,407 647.3,410.8 647.5,409.4 648.4,402.1 649.5,398.5 650.5,393 650.7,393.3 651.8,404.3 652.9,412.7 653.6,419.6 654,419.4 655.1,409.6 655.6,409.4 656.3,403.3 657.4,391.3 658.5,380.8 658.7,378.6 659.6,382.2 660.7,392.6 661.8,397.1 661.9,395.9 663,399.5 664.1,392.8 664.9,395 665.2,396.6 666.3,395.1 667.5,398 667.9,397.1 668.6,391.6 669.7,383 670.8,373.8 671,372.5 671.9,379.7 673.1,387.4 674.1,395 674.2,396 675.3,398 676.1,403.2 676.4,403.4 677.5,399.6 678.7,403.5 679.2,401.2 679.8,397.6 680.9,391 682,383.7 682.3,382.7 683.1,390.3 684.3,390.1 685.3,397.1 685.4,400.3 686.5,391 687.4,386.8 687.6,389 688.7,395.8 689.4,401.2 689.9,406.6 690.9,417.6 691,415.8 692.1,399 693.2,380.4 693.5,376.6 694.3,376.4 695.5,369.8 696.6,369.4 696.6,370.2 697.7,370.1 698.8,377.5 699.7,376.6 699.9,376.8 701.1,384.3 702.2,389.2 702.7,393 703.3,396.2 704.4,393.7 705.5,398.9 705.8,397.1 706.7,391 707.8,391.8 708.9,383.6 708.9,384.8 710,389 711.1,383.8 712.3,389.9 713,388.9 713.4,386.3 714.5,387.2 715.6,381.9 716.7,385.8 717.1,382.7 717.9,381.3 719,382.2 719.1,380.7 720.1,385.5 721.2,393.9 722.2,397.1 722.3,395.4 723.5,394.9 724.2,390.9 724.6,388.6 725.7,394.5 726.8,394.3 727.3,397.1 727.9,400.1 729.1,392.5 730.2,397.8 730.4,395 731.3,388.8 732.4,387.7 733.5,382.7 733.5,381.3 734.7,372.4 735.5,364.3 735.8,360.5 736.9,350.5 737.6,343.8 738,336.2 739.1,320.9 739.6,313.1 740.3,306.7 741.4,306.5 742.5,297.7 742.7,298.8 743.6,289.6 744.7,277.8 745.8,268.1 745.9,271.1 747,260.8 748.1,260.3 748.8,253.7 749.2,250 750.3,249.4 751.5,242.8 751.9,243.5 752.6,248.6 753.7,256.2 754.8,265.9 755,266 755.9,268.8 757.1,274.1 758.2,274.7 759.1,280.3 759.3,277.5 760.4,261.1 761.1,251.7 761.5,237.7 762.1,216.9 762.7,221.6 763.8,233.6 764.2,237.3 764.9,237.4 766,241.7 767.1,239 767.3,241.4 768.3,235.8 769.4,226.6 770.5,221.3 771.3,214.8 771.6,216.3 772.7,225 773.9,231.4 774.4,235.3 775,237.1 776.1,237.9 777.2,243.6 778.3,243 778.5,243.5 779.5,243.1 780.6,239.5 781.6,241.4 781.7,243.1 782.8,250.8 783.6,257.8 783.9,254.3 785.1,239.8 785.7,233.2 786.2,230.7 787.3,223.5 787.7,221 788.4,221.9 789.5,217.5 790.7,219.7 790.8,218.9 791.8,215.2 792.9,217.6 793.9,214.8 794,215.4 795.1,223.3 796.3,224.9 796.4,227.1 797.4,233.1 798.5,233.5 799.5,239.4 799.6,237.2 800.7,220.5 801.9,205.2 802.1,200.5 803,219.8 804.1,245.2 804.6,255.8 805.2,247.1 806.3,235.1 807.5,220.9 807.6,218.9 808.6,224.9 809.7,229.8 810.7,235.3 810.8,236 811.9,228.4 813.1,228 813.8,223 814.2,223.4 815.3,231.8 816.4,233.8 816.9,237.3 817.5,238.9 818.7,232.6 819.8,232.7 819.9,231.2 820.9,227.5 822,231.5 823,229.2 823.1,229.2 824.3,237.3 825.1,241.4 825.4,239.7 826.5,238.1 827.6,230.4 828.1,231.2 828.7,236 829.9,235.7 831,242.2 831.2,239.4 832.1,239.7 833.2,249.1 834.3,248.2 834.3,251.7 835.5,248.4 836.6,240.4 837.3,241.4 837.7,242.7 838.8,232 839.9,230.7 840.4,227.1 841.1,226.7 842.2,235.3 843.3,234.8 843.5,235.3 844.4,229.1 845.5,219.9 845.5,220 846.7,226.3 847.8,229.2 848.6,233.2 848.9,237 850,246 851.1,256.9 851.3,257.8 852.3,244.8 853.4,231.7 853.7,227.1 854.5,229.5 855.6,241.1 856.7,241.7 856.8,245.5 857.9,256.2 858.8,266 859,264.1 860.1,253.7 860.9,245.5 861.2,245.8 862.3,249 862.9,249.6 863.5,254 864.6,265.4 865.6,274.2 865.7,272.7 866.8,258.9 867.9,243.3 869.1,229.2 869.1,230.1 870.2,234.8 871.3,242.5 872.2,247.6 872.4,244.5 873.5,234.6 874.7,221.7 875.2,216.9 875.8,220.4 876.9,217 878,225.1 878.3,223 879.1,217.3 880.3,211.7 880.3,210.7 881.4,217.4 882.5,226.6 883.4,233.2 883.6,230.3 884.7,238.9 885.9,237.8 886.5,239.4 887,244.5 888.1,242.1 889.2,251 889.6,249.6 890.3,246.3 891.5,252.4 892.6,247.3 892.6,249.6 893.7,253.4 894.8,252.5 895.7,253.7 895.9,257.3 897.1,256.9 898.2,265.6 898.8,266 899.3,255.6 900.4,233.9 900.8,225.1 901.5,226.5 902.7,230.2 903.8,232 903.9,233.2 904.9,243.4 906,252.9 907,261.9 907.1,260.8 908.3,252.4 909.4,244.7 910,239.4 910.5,237.7 911.6,241.9 912.7,242.2 913.1,243.5 913.9,244.3 915,242 916.1,248.1 916.2,245.5 917.2,249.2 918.3,254.2 919.3,257.8 919.5,254.4 920.6,254.4 921.7,247.4 922.3,247.6 922.8,252.1 923.9,258.4 925.1,267.8 925.4,270.1 926.2,263.4 927.3,256.4 928.4,248 928.5,247.6 929.5,247.6 930.7,238.7 931.5,237.3 931.8,239.2 932.9,242.4 934,249.3 934.6,251.7 935.1,251.2 936.3,262.4 937.4,263.1 937.7,268.1 938.5,260.9 939.6,247.7 940.7,238.3 940.8,237.3 941.9,239.8 943,248.6 943.8,251.7 944.1,252.5 945.2,260.5 946.3,266.4 946.9,270.1 947.5,272.2 948.6,266.1 949.7,269.8 950,266 950.8,258.6 951.9,258 953,251.7 953.1,248.2 954.2,258.8 955.3,262.6 956.1,268.1 956.4,265.5 957.5,254.3 958.7,245.4 959.2,239.4 959.8,239.8 960.9,243.9 962,243.3 962.3,245.5 963.1,249 964.3,245.3 965.3,245.5 965.4,247.5 966.5,241.2 967.4,241.4 967.6,238.3 968.7,220.8 969.4,210.7 969.9,218.5 971,234.9 971.5,243.5 972.1,248.1 973.2,245.7 974.3,253.4 974.6,251.7 975.5,253.5 976.6,262.1 977.6,264 977.7,263.2 978.8,267.1 979.9,264.8 980.7,266 981.1,269.7 982.2,280 983.3,292.8 983.8,296.7 984.4,291.6 985.5,289.4 986.7,277.6 986.8,278.3 987.8,271 988.9,261.5 990,252.9 990.9,245.5 991.1,244.7 992.3,243.1 993.4,235.8 994.5,238.1 995,233.2 995.6,235.1 996.7,245.8 997.9,247 998.1,249.6 999,249.1 1000.1,244.6 1001.2,248.9 1001.2,245.5 1002.3,243.8 1003.5,250.1 1004.2,247.6 1004.6,250.4 1005.7,263.4 1006.8,274.6 1007.3,280.3 1007.9,280.2 1009.1,275.6 1010.2,276 1010.4,274.2 1011.3,268.2 1012.4,266.2 1013.5,258.2 1013.5,257.8 1014.7,268.6 1015.5,276.3 1015.8,272.4 1016.9,259 1018,243.6 1018.6,237.3 1019.1,238.2 1020.3,226.4 1021.4,225.9 1021.7,223 1022.5,230 1023.6,240.1 1024.7,249.1 1024.7,249.6 1025.9,253.3 1027,249.6 1027.8,251.7 1028.1,256.4 1029.2,255 1030.3,264.3 1030.9,266 1031.5,266.5 1032.6,271.9 1033.7,269.3 1034.8,274.6 1035,274.2 1035.9,256.8 1037.1,238.5 1038,221 1038.2,223.3 1039.2,248.3 1039.3,249.8 1040.4,257.7 1041.3,264.7 1041.5,267 1042.7,273.9 1043.8,281.5 1044.3,285.2 1044.9,280.3 1046,281.7 1046.4,277 1047.1,269.6 1048.3,260.7 1048.8,254.4 1049.4,257.2 1050.5,265.7 1051.5,268.8 1051.6,270.1 1052.7,286.9 1053.6,297.5 1053.9,292.8 1055,293.3 1056.1,284.2 1056.6,285.2 1057.2,290.1 1058.3,290.9 1059.5,298.5 1059.7,299.5 1060.6,307.5 1061.7,319.7 1061.7,320 1062.8,323 1063.9,332.1 1064.8,334.3 1065.1,335.2 1066.2,343.6 1067.3,349.2 1067.9,352.7 1068.4,351.5 1069.5,343.1 1069.9,342.5 1070.7,349.7 1071.8,358.9 1072,360.9 1072.9,362.5 1074,354.8 1075.1,354.8 1075.1,354 1076.3,340.2 1077.4,329.1 1078.1,320 1078.5,322.9 1079.6,333.7 1080.2,338.4 1080.7,335 1081.9,333.5 1082.8,330.2 1083,329.9 1084.1,337.8 1085.2,338.8 1085.3,342.5 1086.3,347.8 1087.5,352.1 1088.4,356.8 1088.6,357.9 1089.7,357.8 1090.8,363.8 1091.4,365 1091.9,367.3 1093.1,374.9 1094.2,381.2 1094.5,383.5 1095.3,379.1 1096.4,370.4 1097.5,363.3 1097.6,363 1098.7,365.3 1099.8,371.8 1100.7,375.3 1100.9,375.4 1102,382.9 1103.1,386.8 1103.7,391.7 1104.3,395.6 1105.4,395.8 1106.5,403.6 1106.8,403.9 1107.6,397.4 1108.7,391.5 1109.9,383.5 1111,375.2 1111.9,367.1 1112.1,368.4 1113.2,377.6 1114.3,385.1 1114.4,385.5 1115.5,381.4 1116.6,369.7 1117.7,369.4 1118.1,365 1118.8,367.4 1119.9,374.5 1121.1,377.3 1121.1,374.4 1122.2,384.4 1123.3,387.1 1124.2,391.7 1124.4,394.1 1125.5,398.1 1126.3,403.9 1126.7,402.5 1127.8,394.6 1128.9,388.8 1129.3,385.5 1130,386.6 1131.1,391.7 1132.3,390.4 1132.4,391.7 1133.4,397 1134.4,399.8 1134.5,399.1 1135.6,389.5 1136.5,381.4 1136.7,382.3 1137.9,391.2 1138.5,395.8 1139,396.1 1140.1,406.6 1140.6,406 1141.2,398.3 1142.3,387.4 1143.5,375.2 1143.7,373.2 1144.6,374.7 1145.7,368.7 1146.7,371.2 1146.8,373.2 1147.9,390.5 1148.4,397.8 1149.1,391.1 1150.2,379.5 1151.3,369 1151.9,363 1152.4,368.6 1153.5,382 1153.9,385.5 1154.7,381.5 1155.8,384.2 1156.9,379.2 1157,381.4 1158,378.8 1159,371.2 1159.1,370 1160.3,376.9 1161.4,378.3 1162.1,381.4 1162.5,383.4 1163.6,379.2 1164.7,379.4 1165.2,377.3 1165.9,372.6 1167,370.4 1168.1,365.5 1168.2,365 1169.2,372.7 1170.3,374.7 1171.3,381.4 1171.5,385 1172.6,387.3 1173.7,394.1 1174.4,395.8 1174.8,385.6 1175.9,362.3 1176.4,350.7 1177.1,351.8 1178.2,357.9 1179.3,357.3 1179.5,360.9 1180.4,357.5 1181.5,346.8 1181.5,348.6 1182.7,362.2 1183.8,374.8 1184.6,385.5 1184.9,387.7 1186,379.7 1187.1,378.8 1187.7,377.3 1188.3,375.7 1189.4,378.7 1190.5,376.6 1191.6,380.8 1191.8,379.4 1192.7,378.5 1193.9,380 1194.9,377.3 1195,375.8 1196.1,386.1 1197.2,388 1197.5,389.6 1198.3,386.1 1199.5,377.1 1200.6,372.9 1201,369.1 1201.7,371.4 1202.8,378 1203.9,382.4 1204.1,383.5 1205.1,386.7 1206.2,385.3 1207.3,392 1208.2,391.7 1208.4,388.6 1209.5,390.5 1210.7,380.1 1211.2,381.4 1211.8,379.2 1212.9,371.3 1214,368.7 1214.3,365 1215.1,369.9 1216.3,379.6 1217.4,385.5 1218.4,393.7 1218.5,393 1219.6,381 1220.5,373.2 1220.7,368.6 1221.9,344.7 1222.5,332.3 1223,338.3 1224.1,350.6 1225.2,365.4 1225.6,369.1 1226.3,365.1 1227.5,363.4 1228.6,355.9 1228.6,358.9 1229.7,356.9 1230.7,350.7 1230.8,348.8 1231.9,332.1 1232.7,320 1233.1,316.9 1234.2,310.7 1234.8,305.6 1235.3,301.1 1236.4,293.9 1237.5,285.1 1237.9,283.1 1238.7,283.2 1239.8,279.8 1240.9,279 1240.9,279.7 1242,270.7 1243.1,263.1 1244,256.5 1244.3,252.9 1245.4,255.5 1246.1,252.4" fill="none" stroke="#000" stroke-width="2.5" stroke-linejoin="round" />
<line x1="372.3" y1="192.6" x2="372.3" y2="403.3" stroke="#000" stroke-width="2.9"/>
<polygon points="372.3,176.4 364.0,192.6 380.6,192.6" fill="#000"/>
<polygon points="372.3,419.5 364.0,403.3 380.6,403.3" fill="#000"/>
<line x1="712" y1="219.0" x2="712" y2="376.3" stroke="#000" stroke-width="2.9"/>
<polygon points="712,202.8 703.7,219.0 720.3,219.0" fill="#000"/>
<polygon points="712,392.5 703.7,376.3 720.3,376.3" fill="#000"/>
<line x1="1267.2" y1="263.7" x2="1267.2" y2="376.0" stroke="#000" stroke-width="2.9"/>
<polygon points="1267.2,247.5 1258.9,263.7 1275.5,263.7" fill="#000"/>
<polygon points="1267.2,392.2 1258.9,376.0 1275.5,376.0" fill="#000"/>
<line x1="702.5" y1="454.6" x2="791.7" y2="454.6" stroke="#000" stroke-width="3.0"/>
<polygon points="686.0,454.6 702.5,446.40000000000003 702.5,462.8" fill="#000"/>
<polygon points="808.2,454.6 791.7,446.40000000000003 791.7,462.8" fill="#000"/>
<text x="811" y="462" font-size="32.1" fill="#000">time to max. [Ca<tspan font-size="22" dy="-9.5">2+</tspan><tspan dy="9.5">]</tspan><tspan font-size="22" dy="7.5">i</tspan></text>
<text x="354" y="263.4" font-size="32" text-anchor="end" fill="#000" >peak</text>
<text x="354" y="302.3" font-size="32" text-anchor="end" fill="#000" >height</text>
<text x="691.5" y="263" font-size="32" text-anchor="end" fill="#000" >plateau</text>
<text x="691.5" y="302.5" font-size="32" text-anchor="end" fill="#000" >height</text>
<text x="415.7" y="152" font-size="32.2" text-anchor="middle" fill="#2e75b6" >transient</text>
<text x="882.4" y="164" font-size="32.2" text-anchor="middle" fill="#2e75b6" >plateau</text>
<text x="1255.8" y="193.6" font-size="32.2" text-anchor="middle" fill="#2e75b6" >increase</text>
<rect x="0" y="618.7" width="1465" height="63.1" fill="#e2e4e3"/>
<text x="732.5" y="663.2" font-size="33" text-anchor="middle" fill="#111" >AngII</text>
<rect x="0" y="1275.4" width="1465" height="62.8" fill="#e2e4e3"/>
<text x="732.5" y="1320.2" font-size="33" text-anchor="middle" fill="#111" >KCl</text>
<text x="27.5" y="736.6" font-size="41.5" text-anchor="start" fill="#000" font-weight="bold" >B</text>
<text x="296" y="738" font-size="34.4" text-anchor="middle" fill="#000" >peak height</text>
<line x1="179.6" y1="762.6" x2="179.6" y2="1091.6" stroke="#2b2b2b" stroke-width="2.6" />
<line x1="178.3" y1="1090.4" x2="423.5" y2="1090.4" stroke="#2b2b2b" stroke-width="2.6" />
<line x1="171.2" y1="763.6" x2="179.6" y2="763.6" stroke="#2b2b2b" stroke-width="2.4" />
<text x="155.1" y="774.5" font-size="32.2" text-anchor="end" fill="#000" >0.5</text>
<line x1="171.2" y1="829" x2="179.6" y2="829" stroke="#2b2b2b" stroke-width="2.4" />
<text x="155.1" y="839.9" font-size="32.2" text-anchor="end" fill="#000" >0.4</text>
<line x1="171.2" y1="894.2" x2="179.6" y2="894.2" stroke="#2b2b2b" stroke-width="2.4" />
<text x="155.1" y="905.1" font-size="32.2" text-anchor="end" fill="#000" >0.3</text>
<line x1="171.2" y1="959.4" x2="179.6" y2="959.4" stroke="#2b2b2b" stroke-width="2.4" />
<text x="155.1" y="970.3" font-size="32.2" text-anchor="end" fill="#000" >0.2</text>
<line x1="171.2" y1="1024.9" x2="179.6" y2="1024.9" stroke="#2b2b2b" stroke-width="2.4" />
<text x="155.1" y="1035.8" font-size="32.2" text-anchor="end" fill="#000" >0.1</text>
<line x1="171.2" y1="1090.4" x2="179.6" y2="1090.4" stroke="#2b2b2b" stroke-width="2.4" />
<text x="155.1" y="1101.3" font-size="32.2" text-anchor="end" fill="#000" >0.0</text>
<line x1="240.3" y1="1090.4" x2="240.3" y2="1098.6" stroke="#2b2b2b" stroke-width="2.4" />
<text transform="translate(252.6,1114.2) rotate(-90)" font-size="34" text-anchor="end" fill="#000">mc</text>
<line x1="301.2" y1="1090.4" x2="301.2" y2="1098.6" stroke="#2b2b2b" stroke-width="2.4" />
<text transform="translate(313.5,1116.7) rotate(-90)" font-size="34" text-anchor="end" fill="#000">miR-221</text>
<line x1="362.8" y1="1090.4" x2="362.8" y2="1098.6" stroke="#2b2b2b" stroke-width="2.4" />
<text transform="translate(375.1,1114.2) rotate(-90)" font-size="34" text-anchor="end" fill="#000">miR-222</text>
<line x1="240.3" y1="847.5" x2="240.3" y2="921.5" stroke="#2b2b2b" stroke-width="2.2" />
<line x1="232.1" y1="847.5" x2="248.5" y2="847.5" stroke="#2b2b2b" stroke-width="2.4" />
<line x1="240.3" y1="996.6" x2="240.3" y2="1022.8" stroke="#2b2b2b" stroke-width="2.2" />
<line x1="232.1" y1="1022.8" x2="248.5" y2="1022.8" stroke="#2b2b2b" stroke-width="2.4" />
<rect x="221.8" y="921.5" width="37.2" height="75.1" fill="#fff" stroke="#2b2b2b" stroke-width="2.2"/>
<line x1="229.8" y1="961.1" x2="257" y2="961.1" stroke="#888" stroke-width="1.3" stroke-dasharray="1.5,7.2"/>
<line x1="221.8" y1="976.8" x2="259" y2="976.8" stroke="#2b2b2b" stroke-width="2.2" />
<line x1="301.2" y1="955.6" x2="301.2" y2="971.3" stroke="#2b2b2b" stroke-width="2.2" />
<line x1="293" y1="955.6" x2="309.4" y2="955.6" stroke="#2b2b2b" stroke-width="2.4" />
<line x1="301.2" y1="1001.4" x2="301.2" y2="1015.7" stroke="#2b2b2b" stroke-width="2.2" />
<line x1="293" y1="1015.7" x2="309.4" y2="1015.7" stroke="#2b2b2b" stroke-width="2.4" />
<rect x="282.9" y="971.3" width="37.2" height="30.1" fill="#d2d2d2" stroke="#2b2b2b" stroke-width="2.2"/>
<line x1="290.9" y1="987" x2="318.1" y2="987" stroke="#888" stroke-width="1.3" stroke-dasharray="1.5,7.2"/>
<line x1="282.9" y1="990.4" x2="320.1" y2="990.4" stroke="#2b2b2b" stroke-width="2.2" />
<line x1="362.8" y1="939.9" x2="362.8" y2="969" stroke="#2b2b2b" stroke-width="2.2" />
<line x1="354.6" y1="939.9" x2="371" y2="939.9" stroke="#2b2b2b" stroke-width="2.4" />
<line x1="362.8" y1="1002.7" x2="362.8" y2="1031.4" stroke="#2b2b2b" stroke-width="2.2" />
<line x1="354.6" y1="1031.4" x2="371" y2="1031.4" stroke="#2b2b2b" stroke-width="2.4" />
<rect x="344" y="969" width="37.3" height="33.7" fill="#a0a0a0" stroke="#2b2b2b" stroke-width="2.2"/>
<line x1="352" y1="985.7" x2="379.3" y2="985.7" stroke="#888" stroke-width="1.3" stroke-dasharray="1.5,7.2"/>
<line x1="344" y1="982.3" x2="381.3" y2="982.3" stroke="#2b2b2b" stroke-width="2.2" />
<circle cx="240.3" cy="1031.4" r="4.9" fill="#fff" stroke="#2b2b2b" stroke-width="2.3"/>
<circle cx="240.3" cy="1001.4" r="4.9" fill="#fff" stroke="#2b2b2b" stroke-width="2.3"/>
<circle cx="240.3" cy="993.2" r="4.9" fill="#fff" stroke="#2b2b2b" stroke-width="2.3"/>
<circle cx="240.3" cy="977.5" r="4.9" fill="#fff" stroke="#2b2b2b" stroke-width="2.3"/>
<circle cx="240.3" cy="972.7" r="4.9" fill="#fff" stroke="#2b2b2b" stroke-width="2.3"/>
<circle cx="240.3" cy="944.7" r="4.9" fill="#fff" stroke="#2b2b2b" stroke-width="2.3"/>
<circle cx="240.3" cy="914" r="4.9" fill="#fff" stroke="#2b2b2b" stroke-width="2.3"/>
<circle cx="240.3" cy="903.8" r="4.9" fill="#fff" stroke="#2b2b2b" stroke-width="2.3"/>
<circle cx="240.3" cy="823.2" r="4.9" fill="#fff" stroke="#2b2b2b" stroke-width="2.3"/>
<circle cx="301.2" cy="1015.7" r="4.9" fill="#fff" stroke="#2b2b2b" stroke-width="2.3"/>
<circle cx="301.2" cy="1000.7" r="4.9" fill="#fff" stroke="#2b2b2b" stroke-width="2.3"/>
<circle cx="301.2" cy="989.8" r="4.9" fill="#fff" stroke="#2b2b2b" stroke-width="2.3"/>
<circle cx="301.2" cy="974" r="4.9" fill="#fff" stroke="#2b2b2b" stroke-width="2.3"/>
<circle cx="301.2" cy="970.6" r="4.9" fill="#fff" stroke="#2b2b2b" stroke-width="2.3"/>
<circle cx="301.2" cy="965.9" r="4.9" fill="#fff" stroke="#2b2b2b" stroke-width="2.3"/>
<circle cx="301.2" cy="951.3" r="4.9" fill="#fff" stroke="#2b2b2b" stroke-width="2.3"/>
<circle cx="362.8" cy="1038.2" r="4.9" fill="#fff" stroke="#2b2b2b" stroke-width="2.3"/>
<circle cx="362.8" cy="1018.4" r="4.9" fill="#fff" stroke="#2b2b2b" stroke-width="2.3"/>
<circle cx="362.8" cy="1006.1" r="4.9" fill="#fff" stroke="#2b2b2b" stroke-width="2.3"/>
<circle cx="362.8" cy="998" r="4.9" fill="#fff" stroke="#2b2b2b" stroke-width="2.3"/>
<circle cx="362.8" cy="989.8" r="4.9" fill="#fff" stroke="#2b2b2b" stroke-width="2.3"/>
<circle cx="362.8" cy="977.5" r="4.9" fill="#fff" stroke="#2b2b2b" stroke-width="2.3"/>
<circle cx="362.8" cy="970.6" r="4.9" fill="#fff" stroke="#2b2b2b" stroke-width="2.3"/>
<circle cx="362.8" cy="965.2" r="4.9" fill="#fff" stroke="#2b2b2b" stroke-width="2.3"/>
<circle cx="362.8" cy="954.3" r="4.9" fill="#fff" stroke="#2b2b2b" stroke-width="2.3"/>
<circle cx="362.8" cy="929.4" r="4.9" fill="#fff" stroke="#2b2b2b" stroke-width="2.3"/>
<text transform="translate(79.5,917) rotate(-90)" font-size="34" text-anchor="middle" fill="#000">Δ<tspan dx="1.5">(</tspan>F<tspan font-size="23" dy="9">340</tspan><tspan dy="-9">/F</tspan><tspan font-size="23" dy="9">380</tspan><tspan dy="-9">)</tspan></text>
<text x="472" y="736.6" font-size="41.5" text-anchor="start" fill="#000" font-weight="bold" >C</text>
<text x="750" y="738" font-size="34.4" text-anchor="middle" fill="#000" >AUC</text>
<line x1="634.2" y1="762.6" x2="634.2" y2="1091.6" stroke="#2b2b2b" stroke-width="2.6" />
<line x1="632.9" y1="1090.4" x2="877.5" y2="1090.4" stroke="#2b2b2b" stroke-width="2.6" />
<line x1="625.8" y1="763.6" x2="634.2" y2="763.6" stroke="#2b2b2b" stroke-width="2.4" />
<text x="609.7" y="774.5" font-size="32.2" text-anchor="end" fill="#000" >20</text>
<line x1="625.8" y1="845.6" x2="634.2" y2="845.6" stroke="#2b2b2b" stroke-width="2.4" />
<text x="609.7" y="856.5" font-size="32.2" text-anchor="end" fill="#000" >15</text>
<line x1="625.8" y1="927.3" x2="634.2" y2="927.3" stroke="#2b2b2b" stroke-width="2.4" />
<text x="609.7" y="938.2" font-size="32.2" text-anchor="end" fill="#000" >10</text>
<line x1="625.8" y1="1008.4" x2="634.2" y2="1008.4" stroke="#2b2b2b" stroke-width="2.4" />
<text x="609.7" y="1019.3" font-size="32.2" text-anchor="end" fill="#000" >5</text>
<line x1="625.8" y1="1090.4" x2="634.2" y2="1090.4" stroke="#2b2b2b" stroke-width="2.4" />
<text x="609.7" y="1101.3" font-size="32.2" text-anchor="end" fill="#000" >0</text>
<line x1="695.2" y1="1090.4" x2="695.2" y2="1098.6" stroke="#2b2b2b" stroke-width="2.4" />
<text transform="translate(707.5,1115.2) rotate(-90)" font-size="34" text-anchor="end" fill="#000">mc</text>
<line x1="755.8" y1="1090.4" x2="755.8" y2="1098.6" stroke="#2b2b2b" stroke-width="2.4" />
<text transform="translate(768.1,1117.7) rotate(-90)" font-size="34" text-anchor="end" fill="#000">miR-221</text>
<line x1="817.4" y1="1090.4" x2="817.4" y2="1098.6" stroke="#2b2b2b" stroke-width="2.4" />
<text transform="translate(829.7,1115.2) rotate(-90)" font-size="34" text-anchor="end" fill="#000">miR-222</text>
<line x1="695.2" y1="854" x2="695.2" y2="930.9" stroke="#2b2b2b" stroke-width="2.2" />
<line x1="687" y1="854" x2="703.4" y2="854" stroke="#2b2b2b" stroke-width="2.4" />
<line x1="695.2" y1="1024.9" x2="695.2" y2="1033.3" stroke="#2b2b2b" stroke-width="2.2" />
<line x1="687" y1="1033.3" x2="703.4" y2="1033.3" stroke="#2b2b2b" stroke-width="2.4" />
<rect x="676.9" y="930.9" width="36.3" height="94" fill="#fff" stroke="#2b2b2b" stroke-width="2.2"/>
<line x1="684.9" y1="978.9" x2="711.2" y2="978.9" stroke="#888" stroke-width="1.3" stroke-dasharray="1.5,7.2"/>
<line x1="676.9" y1="1006" x2="713.2" y2="1006" stroke="#2b2b2b" stroke-width="2.2" />
<line x1="755.8" y1="973.8" x2="755.8" y2="1003.3" stroke="#2b2b2b" stroke-width="2.2" />
<line x1="747.6" y1="973.8" x2="764" y2="973.8" stroke="#2b2b2b" stroke-width="2.4" />
<line x1="755.8" y1="1036.3" x2="755.8" y2="1043.8" stroke="#2b2b2b" stroke-width="2.2" />
<line x1="747.6" y1="1043.8" x2="764" y2="1043.8" stroke="#2b2b2b" stroke-width="2.4" />
<rect x="737.8" y="1003.3" width="36.7" height="33" fill="#d2d2d2" stroke="#2b2b2b" stroke-width="2.2"/>
<line x1="745.8" y1="1017.4" x2="772.5" y2="1017.4" stroke="#888" stroke-width="1.3" stroke-dasharray="1.5,7.2"/>
<line x1="737.8" y1="1021.9" x2="774.5" y2="1021.9" stroke="#2b2b2b" stroke-width="2.2" />
<line x1="817.4" y1="977.4" x2="817.4" y2="1003.9" stroke="#2b2b2b" stroke-width="2.2" />
<line x1="809.2" y1="977.4" x2="825.6" y2="977.4" stroke="#2b2b2b" stroke-width="2.4" />
<line x1="817.4" y1="1034.8" x2="817.4" y2="1047.4" stroke="#2b2b2b" stroke-width="2.2" />
<line x1="809.2" y1="1047.4" x2="825.6" y2="1047.4" stroke="#2b2b2b" stroke-width="2.4" />
<rect x="798.5" y="1003.9" width="36.9" height="30.9" fill="#a0a0a0" stroke="#2b2b2b" stroke-width="2.2"/>
<line x1="806.5" y1="1017" x2="833.4" y2="1017" stroke="#888" stroke-width="1.3" stroke-dasharray="1.5,7.2"/>
<line x1="798.5" y1="1021.9" x2="835.4" y2="1021.9" stroke="#2b2b2b" stroke-width="2.2" />
<circle cx="695.2" cy="1035.4" r="4.9" fill="#fff" stroke="#2b2b2b" stroke-width="2.3"/>
<circle cx="695.2" cy="1029.4" r="4.9" fill="#fff" stroke="#2b2b2b" stroke-width="2.3"/>
<circle cx="695.2" cy="1021.9" r="4.9" fill="#fff" stroke="#2b2b2b" stroke-width="2.3"/>
<circle cx="695.2" cy="1007.8" r="4.9" fill="#fff" stroke="#2b2b2b" stroke-width="2.3"/>
<circle cx="695.2" cy="1004.5" r="4.9" fill="#fff" stroke="#2b2b2b" stroke-width="2.3"/>
<circle cx="695.2" cy="994" r="4.9" fill="#fff" stroke="#2b2b2b" stroke-width="2.3"/>
<circle cx="695.2" cy="938.7" r="4.9" fill="#fff" stroke="#2b2b2b" stroke-width="2.3"/>
<circle cx="695.2" cy="927.3" r="4.9" fill="#fff" stroke="#2b2b2b" stroke-width="2.3"/>
<circle cx="695.2" cy="922.2" r="4.9" fill="#fff" stroke="#2b2b2b" stroke-width="2.3"/>
<circle cx="695.2" cy="824.3" r="4.9" fill="#fff" stroke="#2b2b2b" stroke-width="2.3"/>
<circle cx="755.8" cy="1044.4" r="4.9" fill="#fff" stroke="#2b2b2b" stroke-width="2.3"/>
<circle cx="755.8" cy="1027.9" r="4.9" fill="#fff" stroke="#2b2b2b" stroke-width="2.3"/>
<circle cx="755.8" cy="1017.4" r="4.9" fill="#fff" stroke="#2b2b2b" stroke-width="2.3"/>
<circle cx="755.8" cy="997.8" r="4.9" fill="#fff" stroke="#2b2b2b" stroke-width="2.3"/>
<circle cx="755.8" cy="978.3" r="4.9" fill="#fff" stroke="#2b2b2b" stroke-width="2.3"/>
<circle cx="755.8" cy="973.2" r="4.9" fill="#fff" stroke="#2b2b2b" stroke-width="2.3"/>
<circle cx="817.4" cy="1047.4" r="4.9" fill="#fff" stroke="#2b2b2b" stroke-width="2.3"/>
<circle cx="817.4" cy="1033.9" r="4.9" fill="#fff" stroke="#2b2b2b" stroke-width="2.3"/>
<circle cx="817.4" cy="1024.9" r="4.9" fill="#fff" stroke="#2b2b2b" stroke-width="2.3"/>
<circle cx="817.4" cy="1015.9" r="4.9" fill="#fff" stroke="#2b2b2b" stroke-width="2.3"/>
<circle cx="817.4" cy="1006.9" r="4.9" fill="#fff" stroke="#2b2b2b" stroke-width="2.3"/>
<circle cx="817.4" cy="1000.9" r="4.9" fill="#fff" stroke="#2b2b2b" stroke-width="2.3"/>
<circle cx="817.4" cy="991.2" r="4.9" fill="#fff" stroke="#2b2b2b" stroke-width="2.3"/>
<circle cx="817.4" cy="967.8" r="4.9" fill="#fff" stroke="#2b2b2b" stroke-width="2.3"/>
<text transform="translate(541,916) rotate(-90)" font-size="34" text-anchor="middle" fill="#000">AUC [s x (F<tspan font-size="23" dy="9">340</tspan><tspan dy="-9">/F</tspan><tspan font-size="23" dy="9">380</tspan><tspan dy="-9">)]</tspan></text>
<text x="970.4" y="736.6" font-size="41.5" text-anchor="start" fill="#000" font-weight="bold" >D</text>
<text x="1205.6" y="738" font-size="34.4" text-anchor="middle" fill="#000" >non-responder</text>
<line x1="1091.2" y1="762.6" x2="1091.2" y2="1091.6" stroke="#2b2b2b" stroke-width="2.6" />
<line x1="1089.9" y1="1090.4" x2="1335" y2="1090.4" stroke="#2b2b2b" stroke-width="2.6" />
<line x1="1082.8" y1="763.6" x2="1091.2" y2="763.6" stroke="#2b2b2b" stroke-width="2.4" />
<text x="1066.7" y="774.5" font-size="32.2" text-anchor="end" fill="#000" >60</text>
<line x1="1082.8" y1="816.7" x2="1091.2" y2="816.7" stroke="#2b2b2b" stroke-width="2.4" />
<text x="1066.7" y="827.6" font-size="32.2" text-anchor="end" fill="#000" >50</text>
<line x1="1082.8" y1="869.3" x2="1091.2" y2="869.3" stroke="#2b2b2b" stroke-width="2.4" />
<text x="1066.7" y="880.2" font-size="32.2" text-anchor="end" fill="#000" >40</text>
<line x1="1082.8" y1="921.9" x2="1091.2" y2="921.9" stroke="#2b2b2b" stroke-width="2.4" />
<text x="1066.7" y="932.8" font-size="32.2" text-anchor="end" fill="#000" >30</text>
<line x1="1082.8" y1="974.4" x2="1091.2" y2="974.4" stroke="#2b2b2b" stroke-width="2.4" />
<text x="1066.7" y="985.3" font-size="32.2" text-anchor="end" fill="#000" >20</text>
<line x1="1082.8" y1="1027" x2="1091.2" y2="1027" stroke="#2b2b2b" stroke-width="2.4" />
<text x="1066.7" y="1037.9" font-size="32.2" text-anchor="end" fill="#000" >10</text>
<line x1="1082.8" y1="1079.5" x2="1091.2" y2="1079.5" stroke="#2b2b2b" stroke-width="2.4" />
<text x="1066.7" y="1090.4" font-size="32.2" text-anchor="end" fill="#000" >0</text>
<line x1="1151.8" y1="1090.4" x2="1151.8" y2="1098.6" stroke="#2b2b2b" stroke-width="2.4" />
<text transform="translate(1164.1,1115.2) rotate(-90)" font-size="34" text-anchor="end" fill="#000">mc</text>
<line x1="1213.4" y1="1090.4" x2="1213.4" y2="1098.6" stroke="#2b2b2b" stroke-width="2.4" />
<text transform="translate(1225.7,1117.7) rotate(-90)" font-size="34" text-anchor="end" fill="#000">miR-221</text>
<line x1="1274.4" y1="1090.4" x2="1274.4" y2="1098.6" stroke="#2b2b2b" stroke-width="2.4" />
<text transform="translate(1286.7,1115.2) rotate(-90)" font-size="34" text-anchor="end" fill="#000">miR-222</text>
<line x1="1151.8" y1="938.7" x2="1151.8" y2="999.4" stroke="#2b2b2b" stroke-width="2.2" />
<line x1="1143.6" y1="938.7" x2="1160" y2="938.7" stroke="#2b2b2b" stroke-width="2.4" />
<rect x="1133.2" y="999.4" width="37.6" height="80.4" fill="#fff" stroke="#2b2b2b" stroke-width="2.2"/>
<line x1="1141.2" y1="1031.5" x2="1168.8" y2="1031.5" stroke="#888" stroke-width="1.3" stroke-dasharray="1.5,7.2"/>
<line x1="1133.2" y1="1043.8" x2="1170.8" y2="1043.8" stroke="#2b2b2b" stroke-width="2.2" />
<line x1="1213.4" y1="858.8" x2="1213.4" y2="954.9" stroke="#2b2b2b" stroke-width="2.2" />
<line x1="1205.2" y1="858.8" x2="1221.6" y2="858.8" stroke="#2b2b2b" stroke-width="2.4" />
<line x1="1213.4" y1="1057.3" x2="1213.4" y2="1074.4" stroke="#2b2b2b" stroke-width="2.2" />
<line x1="1205.2" y1="1074.4" x2="1221.6" y2="1074.4" stroke="#2b2b2b" stroke-width="2.4" />
<rect x="1194.8" y="954.9" width="36.9" height="102.4" fill="#d2d2d2" stroke="#2b2b2b" stroke-width="2.2"/>
<line x1="1202.8" y1="998.2" x2="1229.7" y2="998.2" stroke="#888" stroke-width="1.3" stroke-dasharray="1.5,7.2"/>
<line x1="1194.8" y1="1015" x2="1231.7" y2="1015" stroke="#2b2b2b" stroke-width="2.2" />
<line x1="1274.4" y1="868.1" x2="1274.4" y2="940.8" stroke="#2b2b2b" stroke-width="2.2" />
<line x1="1266.2" y1="868.1" x2="1282.6" y2="868.1" stroke="#2b2b2b" stroke-width="2.4" />
<rect x="1255.8" y="940.8" width="37.2" height="135.1" fill="#a0a0a0" stroke="#2b2b2b" stroke-width="2.2"/>
<line x1="1263.8" y1="1004.5" x2="1291" y2="1004.5" stroke="#888" stroke-width="1.3" stroke-dasharray="1.5,7.2"/>
<line x1="1255.8" y1="1013.8" x2="1293" y2="1013.8" stroke="#2b2b2b" stroke-width="2.2" />
<circle cx="1151.8" cy="1079.5" r="4.9" fill="#fff" stroke="#2b2b2b" stroke-width="2.3"/>
<circle cx="1151.8" cy="1074.4" r="4.9" fill="#fff" stroke="#2b2b2b" stroke-width="2.3"/>
<circle cx="1151.8" cy="1063.3" r="4.9" fill="#fff" stroke="#2b2b2b" stroke-width="2.3"/>
<circle cx="1151.8" cy="1043.8" r="4.9" fill="#fff" stroke="#2b2b2b" stroke-width="2.3"/>
<circle cx="1151.8" cy="1018.9" r="4.9" fill="#fff" stroke="#2b2b2b" stroke-width="2.3"/>
<circle cx="1151.8" cy="1013.8" r="4.9" fill="#fff" stroke="#2b2b2b" stroke-width="2.3"/>
<circle cx="1151.8" cy="1003.9" r="4.9" fill="#fff" stroke="#2b2b2b" stroke-width="2.3"/>
<circle cx="1151.8" cy="994.3" r="4.9" fill="#fff" stroke="#2b2b2b" stroke-width="2.3"/>
<circle cx="1151.8" cy="946.8" r="4.9" fill="#fff" stroke="#2b2b2b" stroke-width="2.3"/>
<circle cx="1151.8" cy="932.7" r="4.9" fill="#fff" stroke="#2b2b2b" stroke-width="2.3"/>
<circle cx="1213.4" cy="1079.5" r="4.9" fill="#fff" stroke="#2b2b2b" stroke-width="2.3"/>
<circle cx="1213.4" cy="1063.9" r="4.9" fill="#fff" stroke="#2b2b2b" stroke-width="2.3"/>
<circle cx="1213.4" cy="1045" r="4.9" fill="#fff" stroke="#2b2b2b" stroke-width="2.3"/>
<circle cx="1213.4" cy="1038.4" r="4.9" fill="#fff" stroke="#2b2b2b" stroke-width="2.3"/>
<circle cx="1213.4" cy="1032.4" r="4.9" fill="#fff" stroke="#2b2b2b" stroke-width="2.3"/>
<circle cx="1213.4" cy="997.8" r="4.9" fill="#fff" stroke="#2b2b2b" stroke-width="2.3"/>
<circle cx="1213.4" cy="981.3" r="4.9" fill="#fff" stroke="#2b2b2b" stroke-width="2.3"/>
<circle cx="1213.4" cy="975.3" r="4.9" fill="#fff" stroke="#2b2b2b" stroke-width="2.3"/>
<circle cx="1213.4" cy="947.4" r="4.9" fill="#fff" stroke="#2b2b2b" stroke-width="2.3"/>
<circle cx="1213.4" cy="919.2" r="4.9" fill="#fff" stroke="#2b2b2b" stroke-width="2.3"/>
<circle cx="1213.4" cy="831.8" r="4.9" fill="#fff" stroke="#2b2b2b" stroke-width="2.3"/>
<circle cx="1274.4" cy="1078.9" r="4.9" fill="#fff" stroke="#2b2b2b" stroke-width="2.3"/>
<circle cx="1274.4" cy="1071.4" r="4.9" fill="#fff" stroke="#2b2b2b" stroke-width="2.3"/>
<circle cx="1274.4" cy="1041.4" r="4.9" fill="#fff" stroke="#2b2b2b" stroke-width="2.3"/>
<circle cx="1274.4" cy="1013.2" r="4.9" fill="#fff" stroke="#2b2b2b" stroke-width="2.3"/>
<circle cx="1274.4" cy="995.8" r="4.9" fill="#fff" stroke="#2b2b2b" stroke-width="2.3"/>
<circle cx="1274.4" cy="994.3" r="4.9" fill="#fff" stroke="#2b2b2b" stroke-width="2.3"/>
<circle cx="1274.4" cy="962.7" r="4.9" fill="#fff" stroke="#2b2b2b" stroke-width="2.3"/>
<circle cx="1274.4" cy="918.9" r="4.9" fill="#fff" stroke="#2b2b2b" stroke-width="2.3"/>
<circle cx="1274.4" cy="900.2" r="4.9" fill="#fff" stroke="#2b2b2b" stroke-width="2.3"/>
<circle cx="1274.4" cy="846.2" r="4.9" fill="#fff" stroke="#2b2b2b" stroke-width="2.3"/>
<text transform="translate(1014,916.7) rotate(-90)" font-size="34" text-anchor="middle" fill="#000">cells [%]</text>
<text x="33" y="1392.5" font-size="41.5" text-anchor="start" fill="#000" font-weight="bold" >E</text>
<text x="297.3" y="1396.6" font-size="34.4" text-anchor="middle" fill="#000" >plateau height</text>
<line x1="167.3" y1="1427.7" x2="167.3" y2="1755.8" stroke="#2b2b2b" stroke-width="2.6" />
<line x1="166" y1="1754.6" x2="411.5" y2="1754.6" stroke="#2b2b2b" stroke-width="2.6" />
<line x1="158.9" y1="1428.7" x2="167.3" y2="1428.7" stroke="#2b2b2b" stroke-width="2.4" />
<text x="142.8" y="1439.6" font-size="32.2" text-anchor="end" fill="#000" >0.5</text>
<line x1="158.9" y1="1494.2" x2="167.3" y2="1494.2" stroke="#2b2b2b" stroke-width="2.4" />
<text x="142.8" y="1505.1" font-size="32.2" text-anchor="end" fill="#000" >0.4</text>
<line x1="158.9" y1="1559.3" x2="167.3" y2="1559.3" stroke="#2b2b2b" stroke-width="2.4" />
<text x="142.8" y="1570.2" font-size="32.2" text-anchor="end" fill="#000" >0.3</text>
<line x1="158.9" y1="1624.2" x2="167.3" y2="1624.2" stroke="#2b2b2b" stroke-width="2.4" />
<text x="142.8" y="1635.1" font-size="32.2" text-anchor="end" fill="#000" >0.2</text>
<line x1="158.9" y1="1689.4" x2="167.3" y2="1689.4" stroke="#2b2b2b" stroke-width="2.4" />
<text x="142.8" y="1700.3" font-size="32.2" text-anchor="end" fill="#000" >0.1</text>
<line x1="158.9" y1="1754.6" x2="167.3" y2="1754.6" stroke="#2b2b2b" stroke-width="2.4" />
<text x="142.8" y="1765.5" font-size="32.2" text-anchor="end" fill="#000" >0.0</text>
<line x1="228.9" y1="1754.6" x2="228.9" y2="1762.8" stroke="#2b2b2b" stroke-width="2.4" />
<text transform="translate(241.2,1779.3) rotate(-90)" font-size="34" text-anchor="end" fill="#000">mc</text>
<line x1="289.8" y1="1754.6" x2="289.8" y2="1762.8" stroke="#2b2b2b" stroke-width="2.4" />
<text transform="translate(302.1,1781.8) rotate(-90)" font-size="34" text-anchor="end" fill="#000">miR-221</text>
<line x1="350.8" y1="1754.6" x2="350.8" y2="1762.8" stroke="#2b2b2b" stroke-width="2.4" />
<text transform="translate(363.1,1779.3) rotate(-90)" font-size="34" text-anchor="end" fill="#000">miR-222</text>
<line x1="228.9" y1="1491.2" x2="228.9" y2="1551.8" stroke="#2b2b2b" stroke-width="2.2" />
<line x1="220.7" y1="1491.2" x2="237.1" y2="1491.2" stroke="#2b2b2b" stroke-width="2.4" />
<line x1="228.9" y1="1663.9" x2="228.9" y2="1679.5" stroke="#2b2b2b" stroke-width="2.2" />
<line x1="220.7" y1="1679.5" x2="237.1" y2="1679.5" stroke="#2b2b2b" stroke-width="2.4" />
<rect x="210.2" y="1551.8" width="37" height="112.1" fill="#fff" stroke="#2b2b2b" stroke-width="2.2"/>
<line x1="218.2" y1="1607.4" x2="245.2" y2="1607.4" stroke="#888" stroke-width="1.3" stroke-dasharray="1.5,7.2"/>
<line x1="210.2" y1="1639.8" x2="247.2" y2="1639.8" stroke="#2b2b2b" stroke-width="2.2" />
<line x1="289.8" y1="1582.2" x2="289.8" y2="1608.3" stroke="#2b2b2b" stroke-width="2.2" />
<line x1="281.6" y1="1582.2" x2="298" y2="1582.2" stroke="#2b2b2b" stroke-width="2.4" />
<line x1="289.8" y1="1671.4" x2="289.8" y2="1679.5" stroke="#2b2b2b" stroke-width="2.2" />
<line x1="281.6" y1="1679.5" x2="298" y2="1679.5" stroke="#2b2b2b" stroke-width="2.4" />
<rect x="271.2" y="1608.3" width="37.3" height="63.1" fill="#d2d2d2" stroke="#2b2b2b" stroke-width="2.2"/>
<line x1="279.2" y1="1645.2" x2="306.5" y2="1645.2" stroke="#888" stroke-width="1.3" stroke-dasharray="1.5,7.2"/>
<line x1="271.2" y1="1666" x2="308.5" y2="1666" stroke="#2b2b2b" stroke-width="2.2" />
<line x1="350.8" y1="1544.3" x2="350.8" y2="1595.4" stroke="#2b2b2b" stroke-width="2.2" />
<line x1="342.6" y1="1544.3" x2="359" y2="1544.3" stroke="#2b2b2b" stroke-width="2.4" />
<line x1="350.8" y1="1662.4" x2="350.8" y2="1679.5" stroke="#2b2b2b" stroke-width="2.2" />
<line x1="342.6" y1="1679.5" x2="359" y2="1679.5" stroke="#2b2b2b" stroke-width="2.4" />
<rect x="332.5" y="1595.4" width="36.9" height="67" fill="#a0a0a0" stroke="#2b2b2b" stroke-width="2.2"/>
<line x1="340.5" y1="1629.3" x2="367.4" y2="1629.3" stroke="#888" stroke-width="1.3" stroke-dasharray="1.5,7.2"/>
<line x1="332.5" y1="1648.8" x2="369.4" y2="1648.8" stroke="#2b2b2b" stroke-width="2.2" />
<circle cx="228.9" cy="1684.3" r="4.9" fill="#fff" stroke="#2b2b2b" stroke-width="2.3"/>
<circle cx="228.9" cy="1671.4" r="4.9" fill="#fff" stroke="#2b2b2b" stroke-width="2.3"/>
<circle cx="228.9" cy="1663.9" r="4.9" fill="#fff" stroke="#2b2b2b" stroke-width="2.3"/>
<circle cx="228.9" cy="1658.8" r="4.9" fill="#fff" stroke="#2b2b2b" stroke-width="2.3"/>
<circle cx="228.9" cy="1648.2" r="4.9" fill="#fff" stroke="#2b2b2b" stroke-width="2.3"/>
<circle cx="228.9" cy="1639.2" r="4.9" fill="#fff" stroke="#2b2b2b" stroke-width="2.3"/>
<circle cx="228.9" cy="1592.7" r="4.9" fill="#fff" stroke="#2b2b2b" stroke-width="2.3"/>
<circle cx="228.9" cy="1570.2" r="4.9" fill="#fff" stroke="#2b2b2b" stroke-width="2.3"/>
<circle cx="228.9" cy="1565.4" r="4.9" fill="#fff" stroke="#2b2b2b" stroke-width="2.3"/>
<circle cx="228.9" cy="1536.8" r="4.9" fill="#fff" stroke="#2b2b2b" stroke-width="2.3"/>
<circle cx="228.9" cy="1531.1" r="4.9" fill="#fff" stroke="#2b2b2b" stroke-width="2.3"/>
<circle cx="228.9" cy="1464.1" r="4.9" fill="#fff" stroke="#2b2b2b" stroke-width="2.3"/>
<circle cx="289.8" cy="1679.5" r="4.9" fill="#fff" stroke="#2b2b2b" stroke-width="2.3"/>
<circle cx="289.8" cy="1667.8" r="4.9" fill="#fff" stroke="#2b2b2b" stroke-width="2.3"/>
<circle cx="289.8" cy="1664.8" r="4.9" fill="#fff" stroke="#2b2b2b" stroke-width="2.3"/>
<circle cx="289.8" cy="1628.7" r="4.9" fill="#fff" stroke="#2b2b2b" stroke-width="2.3"/>
<circle cx="289.8" cy="1609.8" r="4.9" fill="#fff" stroke="#2b2b2b" stroke-width="2.3"/>
<circle cx="289.8" cy="1607.7" r="4.9" fill="#fff" stroke="#2b2b2b" stroke-width="2.3"/>
<circle cx="289.8" cy="1582.2" r="4.9" fill="#fff" stroke="#2b2b2b" stroke-width="2.3"/>
<circle cx="350.8" cy="1680.4" r="4.9" fill="#fff" stroke="#2b2b2b" stroke-width="2.3"/>
<circle cx="350.8" cy="1675.9" r="4.9" fill="#fff" stroke="#2b2b2b" stroke-width="2.3"/>
<circle cx="350.8" cy="1665.4" r="4.9" fill="#fff" stroke="#2b2b2b" stroke-width="2.3"/>
<circle cx="350.8" cy="1659.4" r="4.9" fill="#fff" stroke="#2b2b2b" stroke-width="2.3"/>
<circle cx="350.8" cy="1651.8" r="4.9" fill="#fff" stroke="#2b2b2b" stroke-width="2.3"/>
<circle cx="350.8" cy="1648.8" r="4.9" fill="#fff" stroke="#2b2b2b" stroke-width="2.3"/>
<circle cx="350.8" cy="1637.7" r="4.9" fill="#fff" stroke="#2b2b2b" stroke-width="2.3"/>
<circle cx="350.8" cy="1609.8" r="4.9" fill="#fff" stroke="#2b2b2b" stroke-width="2.3"/>
<circle cx="350.8" cy="1597.8" r="4.9" fill="#fff" stroke="#2b2b2b" stroke-width="2.3"/>
<circle cx="350.8" cy="1589.7" r="4.9" fill="#fff" stroke="#2b2b2b" stroke-width="2.3"/>
<circle cx="350.8" cy="1546.7" r="4.9" fill="#fff" stroke="#2b2b2b" stroke-width="2.3"/>
<circle cx="350.8" cy="1540.7" r="4.9" fill="#fff" stroke="#2b2b2b" stroke-width="2.3"/>
<text transform="translate(69,1583) rotate(-90)" font-size="34" text-anchor="middle" fill="#000">Δ<tspan dx="3">(</tspan>F<tspan font-size="23" dy="9">340</tspan><tspan dy="-9">/F</tspan><tspan font-size="23" dy="9">380</tspan><tspan dy="-9">)</tspan></text>
<text x="474" y="1390.5" font-size="41.5" text-anchor="start" fill="#000" font-weight="bold" >F</text>
<text x="724.2" y="1396.6" font-size="34.4" text-anchor="middle" fill="#000" >time to max.</text>
<line x1="601.7" y1="1427.7" x2="601.7" y2="1755.8" stroke="#2b2b2b" stroke-width="2.6" />
<line x1="600.4" y1="1754.6" x2="846.5" y2="1754.6" stroke="#2b2b2b" stroke-width="2.6" />
<line x1="593.3" y1="1428.7" x2="601.7" y2="1428.7" stroke="#2b2b2b" stroke-width="2.4" />
<text x="577.2" y="1439.6" font-size="32.2" text-anchor="end" fill="#000" >400</text>
<line x1="593.3" y1="1521.8" x2="601.7" y2="1521.8" stroke="#2b2b2b" stroke-width="2.4" />
<text x="577.2" y="1532.7" font-size="32.2" text-anchor="end" fill="#000" >300</text>
<line x1="593.3" y1="1614.9" x2="601.7" y2="1614.9" stroke="#2b2b2b" stroke-width="2.4" />
<text x="577.2" y="1625.8" font-size="32.2" text-anchor="end" fill="#000" >200</text>
<line x1="593.3" y1="1708" x2="601.7" y2="1708" stroke="#2b2b2b" stroke-width="2.4" />
<text x="577.2" y="1718.9" font-size="32.2" text-anchor="end" fill="#000" >100</text>
<line x1="663.2" y1="1754.6" x2="663.2" y2="1762.8" stroke="#2b2b2b" stroke-width="2.4" />
<text transform="translate(675.5,1780.2) rotate(-90)" font-size="34" text-anchor="end" fill="#000">mc</text>
<line x1="723.9" y1="1754.6" x2="723.9" y2="1762.8" stroke="#2b2b2b" stroke-width="2.4" />
<text transform="translate(736.2,1782.7) rotate(-90)" font-size="34" text-anchor="end" fill="#000">miR-221</text>
<line x1="785.5" y1="1754.6" x2="785.5" y2="1762.8" stroke="#2b2b2b" stroke-width="2.4" />
<text transform="translate(797.8,1780.2) rotate(-90)" font-size="34" text-anchor="end" fill="#000">miR-222</text>
<line x1="663.2" y1="1568.7" x2="663.2" y2="1620.9" stroke="#2b2b2b" stroke-width="2.2" />
<line x1="655" y1="1568.7" x2="671.4" y2="1568.7" stroke="#2b2b2b" stroke-width="2.4" />
<line x1="663.2" y1="1677.4" x2="663.2" y2="1699" stroke="#2b2b2b" stroke-width="2.2" />
<line x1="655" y1="1699" x2="671.4" y2="1699" stroke="#2b2b2b" stroke-width="2.4" />
<rect x="644.6" y="1620.9" width="37.3" height="56.5" fill="#fff" stroke="#2b2b2b" stroke-width="2.2"/>
<line x1="652.6" y1="1647.3" x2="679.9" y2="1647.3" stroke="#888" stroke-width="1.3" stroke-dasharray="1.5,7.2"/>
<line x1="644.6" y1="1647.3" x2="681.9" y2="1647.3" stroke="#2b2b2b" stroke-width="2.2" />
<line x1="723.9" y1="1554.5" x2="723.9" y2="1582.8" stroke="#2b2b2b" stroke-width="2.2" />
<line x1="715.7" y1="1554.5" x2="732.1" y2="1554.5" stroke="#2b2b2b" stroke-width="2.4" />
<line x1="723.9" y1="1633.8" x2="723.9" y2="1645.8" stroke="#2b2b2b" stroke-width="2.2" />
<line x1="715.7" y1="1645.8" x2="732.1" y2="1645.8" stroke="#2b2b2b" stroke-width="2.4" />
<rect x="705.9" y="1582.8" width="37.5" height="51" fill="#d2d2d2" stroke="#2b2b2b" stroke-width="2.2"/>
<line x1="713.9" y1="1610.4" x2="741.4" y2="1610.4" stroke="#888" stroke-width="1.3" stroke-dasharray="1.5,7.2"/>
<line x1="705.9" y1="1620.9" x2="743.4" y2="1620.9" stroke="#2b2b2b" stroke-width="2.2" />
<line x1="785.5" y1="1581.9" x2="785.5" y2="1590.9" stroke="#2b2b2b" stroke-width="2.2" />
<line x1="777.3" y1="1581.9" x2="793.7" y2="1581.9" stroke="#2b2b2b" stroke-width="2.4" />
<line x1="785.5" y1="1621.8" x2="785.5" y2="1656.3" stroke="#2b2b2b" stroke-width="2.2" />
<line x1="777.3" y1="1656.3" x2="793.7" y2="1656.3" stroke="#2b2b2b" stroke-width="2.4" />
<rect x="767.9" y="1590.9" width="36.5" height="30.9" fill="#a0a0a0" stroke="#2b2b2b" stroke-width="2.2"/>
<line x1="775.9" y1="1610.4" x2="802.4" y2="1610.4" stroke="#888" stroke-width="1.3" stroke-dasharray="1.5,7.2"/>
<line x1="767.9" y1="1605.9" x2="804.4" y2="1605.9" stroke="#2b2b2b" stroke-width="2.2" />
<circle cx="663.2" cy="1705.9" r="4.9" fill="#fff" stroke="#2b2b2b" stroke-width="2.3"/>
<circle cx="663.2" cy="1683.4" r="4.9" fill="#fff" stroke="#2b2b2b" stroke-width="2.3"/>
<circle cx="663.2" cy="1678.9" r="4.9" fill="#fff" stroke="#2b2b2b" stroke-width="2.3"/>
<circle cx="663.2" cy="1666.9" r="4.9" fill="#fff" stroke="#2b2b2b" stroke-width="2.3"/>
<circle cx="663.2" cy="1659.4" r="4.9" fill="#fff" stroke="#2b2b2b" stroke-width="2.3"/>
<circle cx="663.2" cy="1648.2" r="4.9" fill="#fff" stroke="#2b2b2b" stroke-width="2.3"/>
<circle cx="663.2" cy="1642.8" r="4.9" fill="#fff" stroke="#2b2b2b" stroke-width="2.3"/>
<circle cx="663.2" cy="1637.7" r="4.9" fill="#fff" stroke="#2b2b2b" stroke-width="2.3"/>
<circle cx="663.2" cy="1614.3" r="4.9" fill="#fff" stroke="#2b2b2b" stroke-width="2.3"/>
<circle cx="663.2" cy="1548.8" r="4.9" fill="#fff" stroke="#2b2b2b" stroke-width="2.3"/>
<circle cx="723.9" cy="1650.3" r="4.9" fill="#fff" stroke="#2b2b2b" stroke-width="2.3"/>
<circle cx="723.9" cy="1637.7" r="4.9" fill="#fff" stroke="#2b2b2b" stroke-width="2.3"/>
<circle cx="723.9" cy="1629.3" r="4.9" fill="#fff" stroke="#2b2b2b" stroke-width="2.3"/>
<circle cx="723.9" cy="1621.8" r="4.9" fill="#fff" stroke="#2b2b2b" stroke-width="2.3"/>
<circle cx="723.9" cy="1618.8" r="4.9" fill="#fff" stroke="#2b2b2b" stroke-width="2.3"/>
<circle cx="723.9" cy="1606.8" r="4.9" fill="#fff" stroke="#2b2b2b" stroke-width="2.3"/>
<circle cx="723.9" cy="1584.9" r="4.9" fill="#fff" stroke="#2b2b2b" stroke-width="2.3"/>
<circle cx="723.9" cy="1575.9" r="4.9" fill="#fff" stroke="#2b2b2b" stroke-width="2.3"/>
<circle cx="723.9" cy="1539.2" r="4.9" fill="#fff" stroke="#2b2b2b" stroke-width="2.3"/>
<circle cx="785.5" cy="1660" r="4.9" fill="#fff" stroke="#2b2b2b" stroke-width="2.3"/>
<circle cx="785.5" cy="1648.8" r="4.9" fill="#fff" stroke="#2b2b2b" stroke-width="2.3"/>
<circle cx="785.5" cy="1622.7" r="4.9" fill="#fff" stroke="#2b2b2b" stroke-width="2.3"/>
<circle cx="785.5" cy="1615.8" r="4.9" fill="#fff" stroke="#2b2b2b" stroke-width="2.3"/>
<circle cx="785.5" cy="1606.8" r="4.9" fill="#fff" stroke="#2b2b2b" stroke-width="2.3"/>
<circle cx="785.5" cy="1599.3" r="4.9" fill="#fff" stroke="#2b2b2b" stroke-width="2.3"/>
<circle cx="785.5" cy="1590.3" r="4.9" fill="#fff" stroke="#2b2b2b" stroke-width="2.3"/>
<circle cx="785.5" cy="1582.8" r="4.9" fill="#fff" stroke="#2b2b2b" stroke-width="2.3"/>
<g><line x1="725.5" y1="1505.9" x2="725.5" y2="1500.7" stroke="#000" stroke-width="1.3"/><ellipse cx="725.50" cy="1500.70" rx="2.9" ry="1.65" fill="#000" transform="rotate(-90 725.50 1500.70)"/><line x1="725.5" y1="1505.9" x2="725.5" y2="1511.1" stroke="#000" stroke-width="1.3"/><ellipse cx="725.50" cy="1511.10" rx="2.9" ry="1.65" fill="#000" transform="rotate(-270 725.50 1511.10)"/><line x1="725.5" y1="1505.9" x2="730.0" y2="1503.3" stroke="#000" stroke-width="1.3"/><ellipse cx="730.00" cy="1503.30" rx="2.9" ry="1.65" fill="#000" transform="rotate(-30 730.00 1503.30)"/><line x1="725.5" y1="1505.9" x2="721.0" y2="1503.3" stroke="#000" stroke-width="1.3"/><ellipse cx="721.00" cy="1503.30" rx="2.9" ry="1.65" fill="#000" transform="rotate(-150 721.00 1503.30)"/><line x1="725.5" y1="1505.9" x2="721.0" y2="1508.5" stroke="#000" stroke-width="1.3"/><ellipse cx="721.00" cy="1508.50" rx="2.9" ry="1.65" fill="#000" transform="rotate(-210 721.00 1508.50)"/><line x1="725.5" y1="1505.9" x2="730.0" y2="1508.5" stroke="#000" stroke-width="1.3"/><ellipse cx="730.00" cy="1508.50" rx="2.9" ry="1.65" fill="#000" transform="rotate(-330 730.00 1508.50)"/></g>
<g><line x1="785.6" y1="1544.9" x2="785.6" y2="1539.7" stroke="#000" stroke-width="1.3"/><ellipse cx="785.60" cy="1539.70" rx="2.9" ry="1.65" fill="#000" transform="rotate(-90 785.60 1539.70)"/><line x1="785.6" y1="1544.9" x2="785.6" y2="1550.1" stroke="#000" stroke-width="1.3"/><ellipse cx="785.60" cy="1550.10" rx="2.9" ry="1.65" fill="#000" transform="rotate(-270 785.60 1550.10)"/><line x1="785.6" y1="1544.9" x2="790.1" y2="1542.3" stroke="#000" stroke-width="1.3"/><ellipse cx="790.10" cy="1542.30" rx="2.9" ry="1.65" fill="#000" transform="rotate(-30 790.10 1542.30)"/><line x1="785.6" y1="1544.9" x2="781.1" y2="1542.3" stroke="#000" stroke-width="1.3"/><ellipse cx="781.10" cy="1542.30" rx="2.9" ry="1.65" fill="#000" transform="rotate(-150 781.10 1542.30)"/><line x1="785.6" y1="1544.9" x2="781.1" y2="1547.5" stroke="#000" stroke-width="1.3"/><ellipse cx="781.10" cy="1547.50" rx="2.9" ry="1.65" fill="#000" transform="rotate(-210 781.10 1547.50)"/><line x1="785.6" y1="1544.9" x2="790.1" y2="1547.5" stroke="#000" stroke-width="1.3"/><ellipse cx="790.10" cy="1547.50" rx="2.9" ry="1.65" fill="#000" transform="rotate(-330 790.10 1547.50)"/></g>
<text transform="translate(505,1581) rotate(-90)" font-size="34" text-anchor="middle" fill="#000">time [s]</text>
<text x="32" y="1964.5" font-size="35.5" text-anchor="start" fill="#000" font-weight="bold" >G</text>
<text x="296.6" y="1982.6" font-size="34.4" text-anchor="middle" fill="#000" >AUC</text>
<line x1="168.2" y1="2007.7" x2="168.2" y2="2335.2" stroke="#2b2b2b" stroke-width="2.6" />
<line x1="166.9" y1="2334" x2="411.5" y2="2334" stroke="#2b2b2b" stroke-width="2.6" />
<line x1="159.8" y1="2008.7" x2="168.2" y2="2008.7" stroke="#2b2b2b" stroke-width="2.4" />
<text x="143.7" y="2019.6" font-size="32.2" text-anchor="end" fill="#000" >40</text>
<line x1="159.8" y1="2090.1" x2="168.2" y2="2090.1" stroke="#2b2b2b" stroke-width="2.4" />
<text x="143.7" y="2101" font-size="32.2" text-anchor="end" fill="#000" >30</text>
<line x1="159.8" y1="2171.2" x2="168.2" y2="2171.2" stroke="#2b2b2b" stroke-width="2.4" />
<text x="143.7" y="2182.1" font-size="32.2" text-anchor="end" fill="#000" >20</text>
<line x1="159.8" y1="2252.6" x2="168.2" y2="2252.6" stroke="#2b2b2b" stroke-width="2.4" />
<text x="143.7" y="2263.5" font-size="32.2" text-anchor="end" fill="#000" >10</text>
<line x1="159.8" y1="2334" x2="168.2" y2="2334" stroke="#2b2b2b" stroke-width="2.4" />
<text x="143.7" y="2344.9" font-size="32.2" text-anchor="end" fill="#000" >0</text>
<line x1="229.2" y1="2334" x2="229.2" y2="2342.2" stroke="#2b2b2b" stroke-width="2.4" />
<text transform="translate(241.5,2359.7) rotate(-90)" font-size="34" text-anchor="end" fill="#000">mc</text>
<line x1="289.8" y1="2334" x2="289.8" y2="2342.2" stroke="#2b2b2b" stroke-width="2.4" />
<text transform="translate(302.1,2362.2) rotate(-90)" font-size="34" text-anchor="end" fill="#000">miR-221</text>
<line x1="350.8" y1="2334" x2="350.8" y2="2342.2" stroke="#2b2b2b" stroke-width="2.4" />
<text transform="translate(363.1,2359.7) rotate(-90)" font-size="34" text-anchor="end" fill="#000">miR-222</text>
<line x1="229.2" y1="2111.7" x2="229.2" y2="2192.8" stroke="#2b2b2b" stroke-width="2.2" />
<line x1="221" y1="2111.7" x2="237.4" y2="2111.7" stroke="#2b2b2b" stroke-width="2.4" />
<line x1="229.2" y1="2262.2" x2="229.2" y2="2281.4" stroke="#2b2b2b" stroke-width="2.2" />
<line x1="221" y1="2281.4" x2="237.4" y2="2281.4" stroke="#2b2b2b" stroke-width="2.4" />
<rect x="211.1" y="2192.8" width="36.1" height="69.4" fill="#fff" stroke="#2b2b2b" stroke-width="2.2"/>
<line x1="219.1" y1="2221.3" x2="245.2" y2="2221.3" stroke="#888" stroke-width="1.3" stroke-dasharray="1.5,7.2"/>
<line x1="211.1" y1="2234" x2="247.2" y2="2234" stroke="#2b2b2b" stroke-width="2.2" />
<line x1="289.8" y1="2224.9" x2="289.8" y2="2264" stroke="#2b2b2b" stroke-width="2.2" />
<line x1="281.6" y1="2224.9" x2="298" y2="2224.9" stroke="#2b2b2b" stroke-width="2.4" />
<line x1="289.8" y1="2295.8" x2="289.8" y2="2301.8" stroke="#2b2b2b" stroke-width="2.2" />
<line x1="281.6" y1="2301.8" x2="298" y2="2301.8" stroke="#2b2b2b" stroke-width="2.4" />
<rect x="271.8" y="2264" width="37" height="31.8" fill="#d2d2d2" stroke="#2b2b2b" stroke-width="2.2"/>
<line x1="279.8" y1="2277.5" x2="306.8" y2="2277.5" stroke="#888" stroke-width="1.3" stroke-dasharray="1.5,7.2"/>
<line x1="271.8" y1="2287.4" x2="308.8" y2="2287.4" stroke="#2b2b2b" stroke-width="2.2" />
<line x1="350.8" y1="2153.8" x2="350.8" y2="2231.8" stroke="#2b2b2b" stroke-width="2.2" />
<line x1="342.6" y1="2153.8" x2="359" y2="2153.8" stroke="#2b2b2b" stroke-width="2.4" />
<line x1="350.8" y1="2280.2" x2="350.8" y2="2296.4" stroke="#2b2b2b" stroke-width="2.2" />
<line x1="342.6" y1="2296.4" x2="359" y2="2296.4" stroke="#2b2b2b" stroke-width="2.4" />
<rect x="332.8" y="2231.8" width="36.6" height="48.4" fill="#a0a0a0" stroke="#2b2b2b" stroke-width="2.2"/>
<line x1="340.8" y1="2250.8" x2="367.4" y2="2250.8" stroke="#888" stroke-width="1.3" stroke-dasharray="1.5,7.2"/>
<line x1="332.8" y1="2266.4" x2="369.4" y2="2266.4" stroke="#2b2b2b" stroke-width="2.2" />
<circle cx="229.2" cy="2279.9" r="4.9" fill="#fff" stroke="#2b2b2b" stroke-width="2.3"/>
<circle cx="229.2" cy="2262.8" r="4.9" fill="#fff" stroke="#2b2b2b" stroke-width="2.3"/>
<circle cx="229.2" cy="2257.4" r="4.9" fill="#fff" stroke="#2b2b2b" stroke-width="2.3"/>
<circle cx="229.2" cy="2252.9" r="4.9" fill="#fff" stroke="#2b2b2b" stroke-width="2.3"/>
<circle cx="229.2" cy="2243" r="4.9" fill="#fff" stroke="#2b2b2b" stroke-width="2.3"/>
<circle cx="229.2" cy="2224.9" r="4.9" fill="#fff" stroke="#2b2b2b" stroke-width="2.3"/>
<circle cx="229.2" cy="2202.4" r="4.9" fill="#fff" stroke="#2b2b2b" stroke-width="2.3"/>
<circle cx="229.2" cy="2188.9" r="4.9" fill="#fff" stroke="#2b2b2b" stroke-width="2.3"/>
<circle cx="229.2" cy="2172.7" r="4.9" fill="#fff" stroke="#2b2b2b" stroke-width="2.3"/>
<circle cx="229.2" cy="2085.6" r="4.9" fill="#fff" stroke="#2b2b2b" stroke-width="2.3"/>
<circle cx="289.8" cy="2303" r="4.9" fill="#fff" stroke="#2b2b2b" stroke-width="2.3"/>
<circle cx="289.8" cy="2297" r="4.9" fill="#fff" stroke="#2b2b2b" stroke-width="2.3"/>
<circle cx="289.8" cy="2288.3" r="4.9" fill="#fff" stroke="#2b2b2b" stroke-width="2.3"/>
<circle cx="289.8" cy="2281.4" r="4.9" fill="#fff" stroke="#2b2b2b" stroke-width="2.3"/>
<circle cx="289.8" cy="2273.9" r="4.9" fill="#fff" stroke="#2b2b2b" stroke-width="2.3"/>
<circle cx="289.8" cy="2260.4" r="4.9" fill="#fff" stroke="#2b2b2b" stroke-width="2.3"/>
<circle cx="289.8" cy="2243.3" r="4.9" fill="#fff" stroke="#2b2b2b" stroke-width="2.3"/>
<circle cx="289.8" cy="2216.2" r="4.9" fill="#fff" stroke="#2b2b2b" stroke-width="2.3"/>
<circle cx="350.8" cy="2297.9" r="4.9" fill="#fff" stroke="#2b2b2b" stroke-width="2.3"/>
<circle cx="350.8" cy="2294.9" r="4.9" fill="#fff" stroke="#2b2b2b" stroke-width="2.3"/>
<circle cx="350.8" cy="2287.4" r="4.9" fill="#fff" stroke="#2b2b2b" stroke-width="2.3"/>
<circle cx="350.8" cy="2276.9" r="4.9" fill="#fff" stroke="#2b2b2b" stroke-width="2.3"/>
<circle cx="350.8" cy="2270.9" r="4.9" fill="#fff" stroke="#2b2b2b" stroke-width="2.3"/>
<circle cx="350.8" cy="2263.4" r="4.9" fill="#fff" stroke="#2b2b2b" stroke-width="2.3"/>
<circle cx="350.8" cy="2260.4" r="4.9" fill="#fff" stroke="#2b2b2b" stroke-width="2.3"/>
<circle cx="350.8" cy="2253.8" r="4.9" fill="#fff" stroke="#2b2b2b" stroke-width="2.3"/>
<circle cx="350.8" cy="2250.8" r="4.9" fill="#fff" stroke="#2b2b2b" stroke-width="2.3"/>
<circle cx="350.8" cy="2237" r="4.9" fill="#fff" stroke="#2b2b2b" stroke-width="2.3"/>
<circle cx="350.8" cy="2216.2" r="4.9" fill="#fff" stroke="#2b2b2b" stroke-width="2.3"/>
<circle cx="350.8" cy="2155.9" r="4.9" fill="#fff" stroke="#2b2b2b" stroke-width="2.3"/>
<circle cx="350.8" cy="2151.7" r="4.9" fill="#fff" stroke="#2b2b2b" stroke-width="2.3"/>
<g><line x1="289.5" y1="2188.3" x2="289.5" y2="2183.1" stroke="#000" stroke-width="1.3"/><ellipse cx="289.50" cy="2183.10" rx="2.9" ry="1.65" fill="#000" transform="rotate(-90 289.50 2183.10)"/><line x1="289.5" y1="2188.3" x2="289.5" y2="2193.5" stroke="#000" stroke-width="1.3"/><ellipse cx="289.50" cy="2193.50" rx="2.9" ry="1.65" fill="#000" transform="rotate(-270 289.50 2193.50)"/><line x1="289.5" y1="2188.3" x2="294.0" y2="2185.7" stroke="#000" stroke-width="1.3"/><ellipse cx="294.00" cy="2185.70" rx="2.9" ry="1.65" fill="#000" transform="rotate(-30 294.00 2185.70)"/><line x1="289.5" y1="2188.3" x2="285.0" y2="2185.7" stroke="#000" stroke-width="1.3"/><ellipse cx="285.00" cy="2185.70" rx="2.9" ry="1.65" fill="#000" transform="rotate(-150 285.00 2185.70)"/><line x1="289.5" y1="2188.3" x2="285.0" y2="2190.9" stroke="#000" stroke-width="1.3"/><ellipse cx="285.00" cy="2190.90" rx="2.9" ry="1.65" fill="#000" transform="rotate(-210 285.00 2190.90)"/><line x1="289.5" y1="2188.3" x2="294.0" y2="2190.9" stroke="#000" stroke-width="1.3"/><ellipse cx="294.00" cy="2190.90" rx="2.9" ry="1.65" fill="#000" transform="rotate(-330 294.00 2190.90)"/></g>
<text transform="translate(72,2160) rotate(-90)" font-size="34" text-anchor="middle" fill="#000">AUC [s x (F<tspan font-size="23" dy="9">340</tspan><tspan dy="-9">/F</tspan><tspan font-size="23" dy="9">380</tspan><tspan dy="-9">)]</tspan></text>
<text x="467.5" y="1963.5" font-size="35.5" text-anchor="start" fill="#000" font-weight="bold" >H</text>
<text x="731.7" y="1983.5" font-size="34.4" text-anchor="middle" fill="#000" >non-responder</text>
<line x1="603.1" y1="2007.7" x2="603.1" y2="2335.2" stroke="#2b2b2b" stroke-width="2.6" />
<line x1="601.8" y1="2334" x2="847.6" y2="2334" stroke="#2b2b2b" stroke-width="2.6" />
<line x1="594.7" y1="2008.7" x2="603.1" y2="2008.7" stroke="#2b2b2b" stroke-width="2.4" />
<text x="578.6" y="2019.6" font-size="32.2" text-anchor="end" fill="#000" >8</text>
<line x1="594.7" y1="2073.6" x2="603.1" y2="2073.6" stroke="#2b2b2b" stroke-width="2.4" />
<text x="578.6" y="2084.5" font-size="32.2" text-anchor="end" fill="#000" >6</text>
<line x1="594.7" y1="2138.1" x2="603.1" y2="2138.1" stroke="#2b2b2b" stroke-width="2.4" />
<text x="578.6" y="2149" font-size="32.2" text-anchor="end" fill="#000" >4</text>
<line x1="594.7" y1="2203.3" x2="603.1" y2="2203.3" stroke="#2b2b2b" stroke-width="2.4" />
<text x="578.6" y="2214.2" font-size="32.2" text-anchor="end" fill="#000" >2</text>
<line x1="594.7" y1="2268.5" x2="603.1" y2="2268.5" stroke="#2b2b2b" stroke-width="2.4" />
<text x="578.6" y="2279.4" font-size="32.2" text-anchor="end" fill="#000" >0</text>
<line x1="594.7" y1="2334" x2="603.1" y2="2334" stroke="#2b2b2b" stroke-width="2.4" />
<text x="578.6" y="2344.9" font-size="32.2" text-anchor="end" fill="#000" >-2</text>
<line x1="664.4" y1="2334" x2="664.4" y2="2342.2" stroke="#2b2b2b" stroke-width="2.4" />
<text transform="translate(676.7,2358.7) rotate(-90)" font-size="34" text-anchor="end" fill="#000">mc</text>
<line x1="725.3" y1="2334" x2="725.3" y2="2342.2" stroke="#2b2b2b" stroke-width="2.4" />
<text transform="translate(737.6,2361.2) rotate(-90)" font-size="34" text-anchor="end" fill="#000">miR-221</text>
<line x1="786.3" y1="2334" x2="786.3" y2="2342.2" stroke="#2b2b2b" stroke-width="2.4" />
<text transform="translate(798.6,2358.7) rotate(-90)" font-size="34" text-anchor="end" fill="#000">miR-222</text>
<line x1="664.4" y1="2216.8" x2="664.4" y2="2231.2" stroke="#2b2b2b" stroke-width="2.2" />
<line x1="656.2" y1="2216.8" x2="672.6" y2="2216.8" stroke="#2b2b2b" stroke-width="2.4" />
<rect x="645.7" y="2231.2" width="37.6" height="37.6" fill="#fff" stroke="#2b2b2b" stroke-width="2.2"/>
<line x1="653.7" y1="2254.4" x2="681.3" y2="2254.4" stroke="#888" stroke-width="1.3" stroke-dasharray="1.5,7.2"/>
<line x1="725.3" y1="2129.7" x2="725.3" y2="2180.2" stroke="#2b2b2b" stroke-width="2.2" />
<line x1="717.1" y1="2129.7" x2="733.5" y2="2129.7" stroke="#2b2b2b" stroke-width="2.4" />
<rect x="706.7" y="2180.2" width="37.6" height="88.6" fill="#d2d2d2" stroke="#2b2b2b" stroke-width="2.2"/>
<line x1="714.7" y1="2214.4" x2="742.3" y2="2214.4" stroke="#888" stroke-width="1.3" stroke-dasharray="1.5,7.2"/>
<line x1="706.7" y1="2211.4" x2="744.3" y2="2211.4" stroke="#2b2b2b" stroke-width="2.2" />
<line x1="786.3" y1="2081.1" x2="786.3" y2="2180.2" stroke="#2b2b2b" stroke-width="2.2" />
<line x1="778.1" y1="2081.1" x2="794.5" y2="2081.1" stroke="#2b2b2b" stroke-width="2.4" />
<rect x="768.3" y="2180.2" width="36.6" height="88.6" fill="#a0a0a0" stroke="#2b2b2b" stroke-width="2.2"/>
<line x1="776.3" y1="2228.2" x2="802.9" y2="2228.2" stroke="#888" stroke-width="1.3" stroke-dasharray="1.5,7.2"/>
<circle cx="664.4" cy="2268.8" r="4.9" fill="#fff" stroke="#2b2b2b" stroke-width="2.3"/>
<circle cx="664.4" cy="2237" r="4.9" fill="#fff" stroke="#2b2b2b" stroke-width="2.3"/>
<circle cx="664.4" cy="2228.8" r="4.9" fill="#fff" stroke="#2b2b2b" stroke-width="2.3"/>
<circle cx="664.4" cy="2220.7" r="4.9" fill="#fff" stroke="#2b2b2b" stroke-width="2.3"/>
<circle cx="664.4" cy="2214.7" r="4.9" fill="#fff" stroke="#2b2b2b" stroke-width="2.3"/>
<circle cx="725.3" cy="2268.8" r="4.9" fill="#fff" stroke="#2b2b2b" stroke-width="2.3"/>
<circle cx="725.3" cy="2232.4" r="4.9" fill="#fff" stroke="#2b2b2b" stroke-width="2.3"/>
<circle cx="725.3" cy="2224.9" r="4.9" fill="#fff" stroke="#2b2b2b" stroke-width="2.3"/>
<circle cx="725.3" cy="2197.3" r="4.9" fill="#fff" stroke="#2b2b2b" stroke-width="2.3"/>
<circle cx="725.3" cy="2191.3" r="4.9" fill="#fff" stroke="#2b2b2b" stroke-width="2.3"/>
<circle cx="725.3" cy="2176.9" r="4.9" fill="#fff" stroke="#2b2b2b" stroke-width="2.3"/>
<circle cx="725.3" cy="2162.2" r="4.9" fill="#fff" stroke="#2b2b2b" stroke-width="2.3"/>
<circle cx="725.3" cy="2115.6" r="4.9" fill="#fff" stroke="#2b2b2b" stroke-width="2.3"/>
<circle cx="786.3" cy="2268.8" r="4.9" fill="#fff" stroke="#2b2b2b" stroke-width="2.3"/>
<circle cx="786.3" cy="2213.8" r="4.9" fill="#fff" stroke="#2b2b2b" stroke-width="2.3"/>
<circle cx="786.3" cy="2145.6" r="4.9" fill="#fff" stroke="#2b2b2b" stroke-width="2.3"/>
<circle cx="786.3" cy="2038.1" r="4.9" fill="#fff" stroke="#2b2b2b" stroke-width="2.3"/>
<g><line x1="726.0" y1="2076.2" x2="726.0" y2="2071.0" stroke="#000" stroke-width="1.3"/><ellipse cx="726.00" cy="2071.00" rx="2.9" ry="1.65" fill="#000" transform="rotate(-90 726.00 2071.00)"/><line x1="726.0" y1="2076.2" x2="726.0" y2="2081.4" stroke="#000" stroke-width="1.3"/><ellipse cx="726.00" cy="2081.40" rx="2.9" ry="1.65" fill="#000" transform="rotate(-270 726.00 2081.40)"/><line x1="726.0" y1="2076.2" x2="730.5" y2="2073.6" stroke="#000" stroke-width="1.3"/><ellipse cx="730.50" cy="2073.60" rx="2.9" ry="1.65" fill="#000" transform="rotate(-30 730.50 2073.60)"/><line x1="726.0" y1="2076.2" x2="721.5" y2="2073.6" stroke="#000" stroke-width="1.3"/><ellipse cx="721.50" cy="2073.60" rx="2.9" ry="1.65" fill="#000" transform="rotate(-150 721.50 2073.60)"/><line x1="726.0" y1="2076.2" x2="721.5" y2="2078.8" stroke="#000" stroke-width="1.3"/><ellipse cx="721.50" cy="2078.80" rx="2.9" ry="1.65" fill="#000" transform="rotate(-210 721.50 2078.80)"/><line x1="726.0" y1="2076.2" x2="730.5" y2="2078.8" stroke="#000" stroke-width="1.3"/><ellipse cx="730.50" cy="2078.80" rx="2.9" ry="1.65" fill="#000" transform="rotate(-330 730.50 2078.80)"/></g>
<text transform="translate(532,2160.5) rotate(-90)" font-size="34" text-anchor="middle" fill="#000">cells [%]</text>
<g>
<polyline points="1031.3,1691.5 1033.4,1694.3 1036.2,1688.7 1039,1697.1 1041.8,1690.1 1044.6,1699.9 1047.4,1705.5 1050.2,1702.7 1053,1697.1 1055.8,1690.1 1057.9,1667.7 1060,1691.5 1062.1,1699.9 1064.9,1701.3 1068.4,1704.1 1071.2,1705.5 1074,1702.7 1078.2,1705.5 1081,1706.2 1083.8,1706.9 1086.6,1694.3 1089.4,1699.9 1092.2,1698.5 1095,1699.9 1098.5,1699.9 1102,1697.1 1104.8,1702.7 1107.6,1708.3 1109.7,1688.7 1111.8,1694.3 1114.6,1705.5 1117.4,1702.7 1120.2,1705.5 1123,1694.3 1125.8,1691.5 1128.5,1699.9 1131.3,1688.7 1135.5,1673.3 1138.3,1690.1 1141.1,1688.7 1143.9,1685.9 1146.7,1683.1 1150.9,1684.5 1154.4,1685.9 1157.2,1687.3 1159.3,1690.1 1162.1,1664.9 1164.2,1690.1 1166.3,1678.9 1169.1,1683.1 1171.9,1678.9 1176.1,1683.1 1178.9,1680.3 1181.7,1673.3 1184.5,1677.5 1187.3,1669.1 1190.8,1667.7 1193.6,1671.9 1196.4,1674.7 1198.5,1660.7 1202,1653.7 1204.1,1643.9 1206.9,1649.5 1209.7,1649.5 1212.5,1645.3 1215.3,1638.3 1218.1,1634.1 1220.9,1635.5 1223.7,1635.5 1226.5,1647.7 1229.3,1636.2 1232.9,1646.2 1235.8,1643.4 1237.9,1630.5 1241.5,1627.6 1245.1,1629 1248.7,1627.6 1251.5,1619 1254.4,1616.1 1257.3,1617.6 1260.1,1610.4 1263,1607.5 1265.9,1603.2 1268.7,1600.4 1271.6,1597.5 1275.2,1590.3 1278.1,1610.4 1280.2,1590.3 1283.1,1588.9 1285.9,1593.2 1290.2,1583.2 1294.5,1583.2 1298.8,1581.7 1303.1,1580.3 1306,1581.7 1308.9,1584.6 1313.2,1583.2 1317.5,1584.6 1320.3,1597.5 1323.2,1591.8 1326.8,1590.3 1330.4,1588.9 1334,1594.6 1337.5,1591.8 1341.1,1587.5 1344.7,1593.2 1349,1593.2 1351.9,1590.3 1354.7,1584.6 1357.6,1600.4 1360.5,1601.8 1363.3,1596.1 1367.6,1593.2 1371.9,1590.3 1376.2,1590.3 1379.1,1587.5 1383.4,1587.5 1386.3,1596.1 1389.1,1598.9 1392,1590.3 1394.9,1587.5 1397.7,1590.3 1400.6,1587.5 1403.5,1593.2 1406.3,1593.2 1409.2,1596.1 1412.1,1601.8 1414.9,1603.2 1417.8,1597.5 1420.7,1593.2 1423.5,1596.1" fill="none" stroke="#888888" stroke-width="4" stroke-linejoin="round" />
<polyline points="1031.3,1691.5 1033.4,1694.3 1036.2,1699.9 1039,1695.7 1041.8,1702.7 1044.6,1697.1 1047.4,1701.3 1050.2,1695.7 1053,1690.1 1055.1,1688.7 1057.2,1692.9 1060,1698.5 1063.5,1699.9 1067,1701.3 1069.8,1698.5 1073.3,1695.7 1076.8,1697.1 1079.6,1688.7 1082.4,1676.1 1084.5,1677.5 1086.6,1690.1 1089.4,1685.9 1092.2,1681.7 1095,1671.9 1097.1,1662.1 1099.2,1671.9 1101.3,1674.7 1103.4,1669.1 1106.2,1663.5 1108.3,1669.1 1109.7,1680.3 1112.5,1677.5 1114.6,1670.5 1116.7,1673.3 1118.8,1678.9 1121.6,1680.3 1123.7,1676.1 1125.1,1669.1 1127.2,1670.5 1129.9,1670.5 1132.7,1669.1 1135.5,1653.7 1138.3,1666.3 1140.4,1657.9 1142.5,1655.1 1143.9,1649.5 1146,1656.5 1148.8,1660 1151.6,1642.5 1153.7,1624.3 1155.8,1635.5 1157.9,1634.1 1160.7,1641.1 1163.5,1636.9 1166.3,1625.7 1168.4,1634.1 1170.5,1636.9 1172.6,1629.9 1175.4,1632.7 1178.9,1635.5 1181.7,1629.9 1184.5,1620.1 1187.3,1615.9 1189.4,1625.7 1192.2,1614.5 1194.3,1620.1 1196.4,1632.7 1198.5,1613.1 1200.6,1610.3 1202.7,1620.1 1204.8,1615.9 1206.9,1613.1 1209.7,1611.7 1212.5,1606.1 1214.6,1604.7 1216.7,1611.7 1218.8,1627.1 1220.9,1603.3 1223,1604.7 1225,1614.7 1227.2,1629 1230,1603.2 1232.2,1609 1234.3,1620.4 1237.2,1621.9 1240.8,1620.4 1243.7,1604.7 1245.8,1594.6 1248.7,1613.3 1250.8,1607.5 1253,1585.3 1255.1,1606.1 1258.7,1600.4 1260.9,1610.4 1263,1588.9 1265.2,1609 1267.3,1616.1 1269.5,1623.3 1271.6,1604.7 1273.8,1587.5 1276.6,1578.9 1278.8,1596.1 1281.6,1604.7 1284.5,1621.9 1286.7,1583.2 1288.8,1596.1 1291,1598.9 1293.1,1591.8 1295.3,1583.2 1297.4,1600.4 1299.6,1593.2 1301,1563.1 1303.1,1581.7 1304.6,1590.3 1307.4,1593.2 1310.3,1606.1 1312.5,1583.2 1314.6,1613.3 1317.5,1594.6 1320.3,1604.7 1323.2,1598.9 1326.1,1604.7 1328.9,1593.2 1332.5,1586 1334.7,1590.3 1337.5,1597.5 1340.4,1607.5 1343.3,1593.2 1346.1,1590.3 1349,1598.9 1351.9,1606.1 1354.7,1598.9 1357.6,1596.1 1361.2,1593.2 1363.3,1590.3 1366.2,1588.9 1369.1,1590.3 1371.9,1588.9 1373.4,1558.8 1374.8,1609 1376.2,1587.5 1379.1,1588.9 1382,1581.7 1384.8,1566 1387.7,1564.5 1390.6,1567.4 1393.4,1577.4 1396.3,1570.3 1399.2,1580.3 1402,1577.4 1404.9,1571.7 1407.1,1555.9 1409.2,1578.9 1412.1,1577.4 1414.9,1578.9 1417.1,1557.4 1419.2,1583.2 1421.4,1574.6 1423.5,1573.1" fill="none" stroke="#b8b8b8" stroke-width="4" stroke-linejoin="round" />
<polyline points="1031.3,1692.2 1033.4,1697.1 1036.2,1688.7 1038.3,1708.3 1040.4,1704.1 1043.2,1699.9 1046,1702.7 1049.5,1704.1 1053,1705.5 1056.5,1706.2 1060,1706.9 1062.8,1705.5 1065.6,1701.3 1068.4,1703.4 1071.2,1704.1 1074,1702.7 1076.8,1704.1 1079.6,1705.5 1082.4,1704.1 1085.2,1706.2 1088,1708.3 1090.8,1705.5 1093.6,1694.3 1095.7,1685.9 1097.8,1674.7 1099.9,1667.7 1102,1660.7 1103.4,1642.5 1105.5,1636.9 1107.6,1628.5 1109,1614.5 1111.1,1604.7 1114.6,1603.3 1117.4,1611.7 1119.5,1600.5 1121.6,1590.8 1123,1574 1125.8,1576.8 1127.2,1568.4 1131.3,1564.2 1133.4,1555.8 1135.5,1541.8 1137.6,1544.6 1140.4,1541.8 1142.5,1546 1145.3,1543.2 1148.8,1544.6 1151.6,1541.8 1155.1,1533.4 1159.3,1532 1162.8,1532 1164.9,1526.4 1167,1518 1169.1,1511.7 1171.2,1529.2 1172.6,1537.6 1175.4,1520.8 1177.5,1511 1179.6,1503.3 1182.4,1513.8 1185.2,1529.2 1188,1539 1190.8,1523.6 1193.6,1522.9 1198.5,1525.7 1202,1527.1 1205.5,1529.2 1209,1536.2 1211.1,1538.3 1213.9,1526.4 1216.7,1532 1219.5,1537.6 1222.3,1524.3 1224.4,1531.3 1225,1531.6 1228.6,1524.4 1231.5,1528.7 1234.3,1538.7 1237.2,1533 1240.1,1543 1242.9,1535.9 1245.8,1530.1 1248.7,1528.7 1250.8,1543 1253.7,1533 1255.8,1523.7 1258,1533 1261.6,1531.6 1265.2,1527.3 1268.7,1525.8 1271.6,1534.4 1274.5,1525.8 1277.3,1533 1280.9,1548.8 1283.8,1537.3 1287.4,1535.9 1290.2,1545.9 1293.8,1550.2 1296.7,1544.5 1300.3,1530.1 1303.1,1547.3 1306,1541.6 1310.3,1538.7 1313.2,1550.2 1316,1540.2 1318.9,1534.4 1321.8,1540.2 1324.6,1544.5 1328.2,1537.3 1331.1,1528.7 1334,1538.7 1337.5,1535.9 1341.1,1538.7 1344,1544.5 1346.1,1537.3 1349,1545.9 1351.9,1525.8 1354,1541.6 1356.9,1537.3 1359.8,1545.9 1363.3,1541.6 1365.5,1537.3 1367.6,1551.6 1370.5,1547.3 1374.1,1548.8 1377.7,1544.5 1380.5,1555.9 1383.4,1537.3 1386.3,1540.2 1388.4,1530.1 1390.6,1543 1393.4,1537.3 1396.3,1534.4 1399.9,1538.7 1404.2,1537.3 1407.8,1548.8 1411.4,1555.9 1414.2,1545.9 1417.1,1554.5 1420,1553.1 1422.1,1544.5 1423.5,1544.5" fill="none" stroke="#2b2b2b" stroke-width="4" stroke-linejoin="round" />
</g>
<line x1="1031.3" y1="1441.6" x2="1031.3" y2="1756.6" stroke="#2b2b2b" stroke-width="2.4" />
<line x1="1023.4" y1="1755.4" x2="1422.6" y2="1755.4" stroke="#2b2b2b" stroke-width="2.4" />
<line x1="1023.4" y1="1442.6" x2="1031.3" y2="1442.6" stroke="#2b2b2b" stroke-width="2.2" />
<text x="1007.5" y="1453.8" font-size="33" text-anchor="end" fill="#000" >1.4</text>
<line x1="1023.4" y1="1505.4" x2="1031.3" y2="1505.4" stroke="#2b2b2b" stroke-width="2.2" />
<text x="1007.5" y="1516.6" font-size="33" text-anchor="end" fill="#000" >1.3</text>
<line x1="1023.4" y1="1568.2" x2="1031.3" y2="1568.2" stroke="#2b2b2b" stroke-width="2.2" />
<text x="1007.5" y="1579.4" font-size="33" text-anchor="end" fill="#000" >1.2</text>
<line x1="1023.4" y1="1630.2" x2="1031.3" y2="1630.2" stroke="#2b2b2b" stroke-width="2.2" />
<text x="1007.5" y="1641.4" font-size="33" text-anchor="end" fill="#000" >1.1</text>
<line x1="1023.4" y1="1693" x2="1031.3" y2="1693" stroke="#2b2b2b" stroke-width="2.2" />
<text x="1007.5" y="1704.2" font-size="33" text-anchor="end" fill="#000" >1.0</text>
<line x1="1023.4" y1="1755.4" x2="1031.3" y2="1755.4" stroke="#2b2b2b" stroke-width="2.2" />
<text x="1007.5" y="1766.6" font-size="33" text-anchor="end" fill="#000" >0.9</text>
<line x1="1031.3" y1="1755.4" x2="1031.3" y2="1764.2" stroke="#2b2b2b" stroke-width="2.2" />
<text x="1031.3" y="1810.3" font-size="33.8" text-anchor="middle" fill="#000" >0</text>
<line x1="1096.8" y1="1755.4" x2="1096.8" y2="1764.2" stroke="#2b2b2b" stroke-width="2.2" />
<text x="1096.8" y="1810.3" font-size="33.8" text-anchor="middle" fill="#000" >50</text>
<line x1="1162" y1="1755.4" x2="1162" y2="1764.2" stroke="#2b2b2b" stroke-width="2.2" />
<text x="1162" y="1810.3" font-size="33.8" text-anchor="middle" fill="#000" >100</text>
<line x1="1227.5" y1="1755.4" x2="1227.5" y2="1764.2" stroke="#2b2b2b" stroke-width="2.2" />
<text x="1227.5" y="1810.3" font-size="33.8" text-anchor="middle" fill="#000" >150</text>
<line x1="1292.3" y1="1755.4" x2="1292.3" y2="1764.2" stroke="#2b2b2b" stroke-width="2.2" />
<text x="1292.3" y="1810.3" font-size="33.8" text-anchor="middle" fill="#000" >200</text>
<line x1="1357.1" y1="1755.4" x2="1357.1" y2="1764.2" stroke="#2b2b2b" stroke-width="2.2" />
<text x="1357.1" y="1810.3" font-size="33.8" text-anchor="middle" fill="#000" >250</text>
<line x1="1422.6" y1="1755.4" x2="1422.6" y2="1764.2" stroke="#2b2b2b" stroke-width="2.2" />
<text x="1422.6" y="1810.3" font-size="33.8" text-anchor="middle" fill="#000" >300</text>
<text x="1226.5" y="1871.6" font-size="33" text-anchor="middle" fill="#000" >time [s]</text>
<text transform="translate(930,1599.6) rotate(-90)" font-size="33" text-anchor="middle" fill="#000">F<tspan font-size="33" dy="8">340</tspan><tspan dy="-8">/F</tspan><tspan font-size="33" dy="8">380</tspan></text>
<line x1="1243.2" y1="1400.7" x2="1311.2" y2="1400.7" stroke="#2b2b2b" stroke-width="4" />
<text x="1327.6" y="1410.4" font-size="30" text-anchor="start" fill="#000" >mc</text>
<line x1="1243.2" y1="1438.7" x2="1311.2" y2="1438.7" stroke="#888888" stroke-width="4" />
<text x="1327.6" y="1448.5" font-size="30" text-anchor="start" fill="#000" >miR-221</text>
<line x1="1243.2" y1="1477.1" x2="1311.2" y2="1477.1" stroke="#b8b8b8" stroke-width="4" />
<text x="1327.6" y="1486.6" font-size="30" text-anchor="start" fill="#000" >miR-222</text>
</svg></body></html>
